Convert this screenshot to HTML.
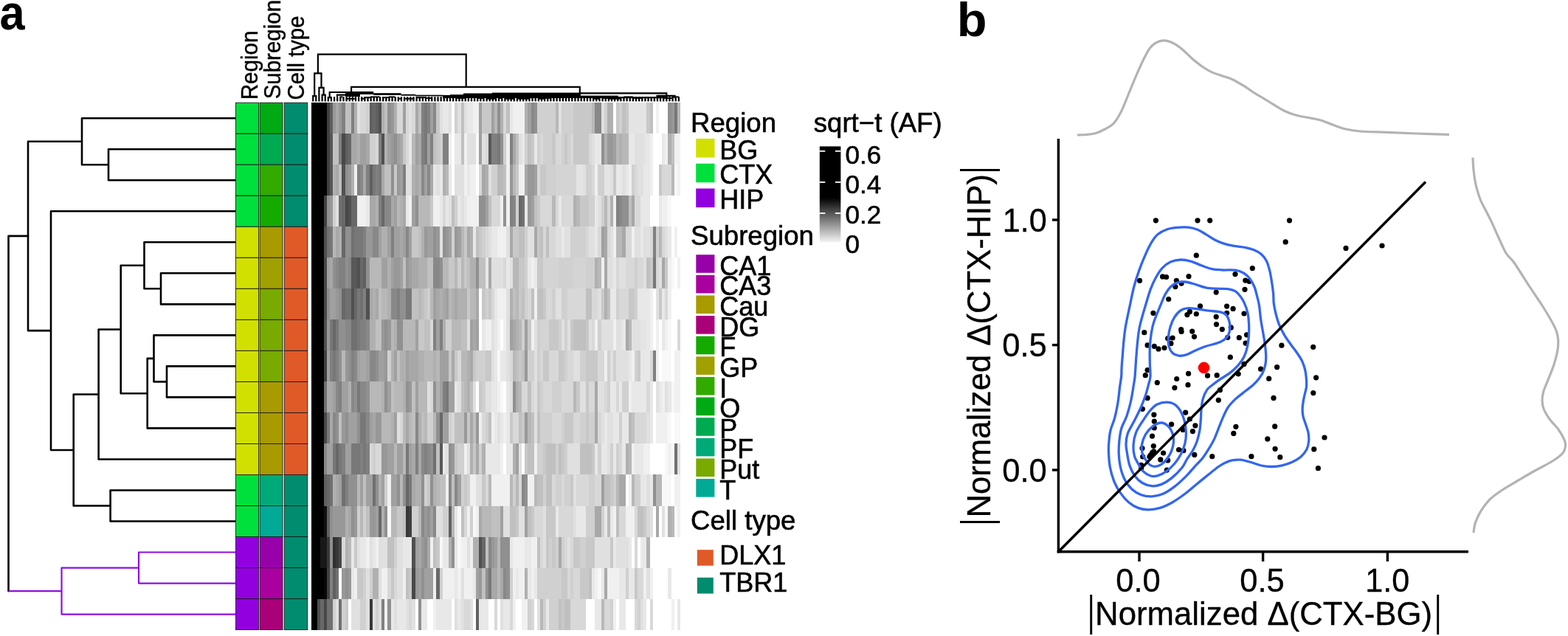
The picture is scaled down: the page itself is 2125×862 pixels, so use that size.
<!DOCTYPE html>
<html lang="en">
<head>
<meta charset="utf-8">
<title>Figure: regional heatmap and normalized delta scatter</title>
<style>
html,body{margin:0;padding:0;background:#fff;}
body{width:2125px;height:862px;overflow:hidden;}
svg{display:block;font-family:"Liberation Sans", sans-serif;}
</style>
</head>
<body>
<svg width="2125" height="862" viewBox="0 0 2125 862" role="img" aria-label="Heatmap of sqrt-t allele fractions by brain region and scatter plot of normalized differences">
<rect x="0" y="0" width="2125" height="862" fill="#ffffff"/>
<g id="panel-a">
<text transform="translate(-0.44,40.30) scale(0.9291,1)" font-size="66" font-weight="bold" fill="#000">a</text>
<g id="row-dendrogram" fill="none" stroke="#000" stroke-width="2.6" stroke-linejoin="round" stroke-linecap="butt">
<path d="M319.5,202.2H147.0V244.3H319.5"/>
<path d="M319.5,160.2H111.0V223.2H147.0"/>
<path d="M319.5,370.3H218.0V412.4H319.5"/>
<path d="M319.5,328.3H195.5V391.3H218.0"/>
<path d="M319.5,496.4H226.0V538.4H319.5"/>
<path d="M319.5,454.4H208.5V517.4H226.0"/>
<path d="M208.5,485.9H199.7V580.4H319.5"/>
<path d="M195.5,359.8H163.7V533.2H199.7"/>
<path d="M163.7,446.5H133.6V622.5H319.5"/>
<path d="M319.5,664.5H149.6V706.5H319.5"/>
<path d="M133.6,534.5H99.7V685.5H149.6"/>
<path d="M319.5,286.3H69.0V610.0H99.7"/>
<path d="M111.0,191.7H38.0V448.1H69.0"/>
</g>
<g id="row-dendrogram-hip" fill="none" stroke="#8c10e0" stroke-width="2.2" stroke-linejoin="round" stroke-linecap="butt">
<path d="M319.5,748.5H188.0V790.6H319.5"/>
<path d="M188.0,769.6H83.5V832.6H319.5"/>
</g>
<path d="M38,319.9H11.5V801.1" fill="none" stroke="#000" stroke-width="2.6" stroke-linejoin="round" stroke-linecap="round"/>
<path d="M11.5,801.1H83.5" fill="none" stroke="#8c10e0" stroke-width="2.2"/>
<g id="annotations" stroke="#1a1a1a" stroke-width="0.9">
<rect x="319.50" y="139.20" width="31.10" height="42.02" fill="#00e03c"/>
<rect x="352.10" y="139.20" width="30.90" height="42.02" fill="#00aa14"/>
<rect x="385.20" y="139.20" width="31.60" height="42.02" fill="#008c6e"/>
<rect x="319.50" y="181.22" width="31.10" height="42.02" fill="#00e03c"/>
<rect x="352.10" y="181.22" width="30.90" height="42.02" fill="#00aa50"/>
<rect x="385.20" y="181.22" width="31.60" height="42.02" fill="#008c6e"/>
<rect x="319.50" y="223.25" width="31.10" height="42.02" fill="#00e03c"/>
<rect x="352.10" y="223.25" width="30.90" height="42.02" fill="#32aa00"/>
<rect x="385.20" y="223.25" width="31.60" height="42.02" fill="#008c6e"/>
<rect x="319.50" y="265.27" width="31.10" height="42.02" fill="#00e03c"/>
<rect x="352.10" y="265.27" width="30.90" height="42.02" fill="#14aa00"/>
<rect x="385.20" y="265.27" width="31.60" height="42.02" fill="#008c6e"/>
<rect x="319.50" y="307.29" width="31.10" height="42.02" fill="#d2e000"/>
<rect x="352.10" y="307.29" width="30.90" height="42.02" fill="#a99a00"/>
<rect x="385.20" y="307.29" width="31.60" height="42.02" fill="#e05a28"/>
<rect x="319.50" y="349.32" width="31.10" height="42.02" fill="#d2e000"/>
<rect x="352.10" y="349.32" width="30.90" height="42.02" fill="#a0a000"/>
<rect x="385.20" y="349.32" width="31.60" height="42.02" fill="#e05a28"/>
<rect x="319.50" y="391.34" width="31.10" height="42.02" fill="#d2e000"/>
<rect x="352.10" y="391.34" width="30.90" height="42.02" fill="#78aa00"/>
<rect x="385.20" y="391.34" width="31.60" height="42.02" fill="#e05a28"/>
<rect x="319.50" y="433.36" width="31.10" height="42.02" fill="#d2e000"/>
<rect x="352.10" y="433.36" width="30.90" height="42.02" fill="#78aa00"/>
<rect x="385.20" y="433.36" width="31.60" height="42.02" fill="#e05a28"/>
<rect x="319.50" y="475.39" width="31.10" height="42.02" fill="#d2e000"/>
<rect x="352.10" y="475.39" width="30.90" height="42.02" fill="#78aa00"/>
<rect x="385.20" y="475.39" width="31.60" height="42.02" fill="#e05a28"/>
<rect x="319.50" y="517.41" width="31.10" height="42.02" fill="#d2e000"/>
<rect x="352.10" y="517.41" width="30.90" height="42.02" fill="#a99a00"/>
<rect x="385.20" y="517.41" width="31.60" height="42.02" fill="#e05a28"/>
<rect x="319.50" y="559.44" width="31.10" height="42.02" fill="#d2e000"/>
<rect x="352.10" y="559.44" width="30.90" height="42.02" fill="#a99a00"/>
<rect x="385.20" y="559.44" width="31.60" height="42.02" fill="#e05a28"/>
<rect x="319.50" y="601.46" width="31.10" height="42.02" fill="#d2e000"/>
<rect x="352.10" y="601.46" width="30.90" height="42.02" fill="#a99a00"/>
<rect x="385.20" y="601.46" width="31.60" height="42.02" fill="#e05a28"/>
<rect x="319.50" y="643.48" width="31.10" height="42.02" fill="#00e03c"/>
<rect x="352.10" y="643.48" width="30.90" height="42.02" fill="#00aa78"/>
<rect x="385.20" y="643.48" width="31.60" height="42.02" fill="#008c6e"/>
<rect x="319.50" y="685.51" width="31.10" height="42.02" fill="#00e03c"/>
<rect x="352.10" y="685.51" width="30.90" height="42.02" fill="#00aa96"/>
<rect x="385.20" y="685.51" width="31.60" height="42.02" fill="#008c6e"/>
<rect x="319.50" y="727.53" width="31.10" height="42.02" fill="#9200e0"/>
<rect x="352.10" y="727.53" width="30.90" height="42.02" fill="#9800aa"/>
<rect x="385.20" y="727.53" width="31.60" height="42.02" fill="#008c6e"/>
<rect x="319.50" y="769.55" width="31.10" height="42.02" fill="#9200e0"/>
<rect x="352.10" y="769.55" width="30.90" height="42.02" fill="#aa00a0"/>
<rect x="385.20" y="769.55" width="31.60" height="42.02" fill="#008c6e"/>
<rect x="319.50" y="811.58" width="31.10" height="42.02" fill="#9200e0"/>
<rect x="352.10" y="811.58" width="30.90" height="42.02" fill="#aa0078"/>
<rect x="385.20" y="811.58" width="31.60" height="42.02" fill="#008c6e"/>
</g>
<text transform="translate(349.10,135.37) rotate(-90) scale(1.0018,1.0500)" font-size="29.6" fill="#000" stroke="#000" stroke-width="0.4">Region</text>
<text transform="translate(379.70,134.33) rotate(-90) scale(0.9961,1.0500)" font-size="29.6" fill="#000" stroke="#000" stroke-width="0.4">Subregion</text>
<text transform="translate(411.80,135.46) rotate(-90) scale(0.9890,1.0500)" font-size="29.6" fill="#000" stroke="#000" stroke-width="0.4">Cell type</text>
<g id="heatmap" shape-rendering="crispEdges">
<rect x="422.10" y="139.20" width="20.70" height="42.07" fill="#000000"/>
<rect x="442.75" y="139.20" width="4.18" height="42.07" fill="#404040"/>
<rect x="446.88" y="139.20" width="4.18" height="42.07" fill="#606060"/>
<rect x="451.01" y="139.20" width="4.18" height="42.07" fill="#999999"/>
<rect x="455.14" y="139.20" width="4.18" height="42.07" fill="#a8a8a8"/>
<rect x="459.28" y="139.20" width="4.18" height="42.07" fill="#999999"/>
<rect x="463.41" y="139.20" width="4.18" height="42.07" fill="#808080"/>
<rect x="467.54" y="139.20" width="8.31" height="42.07" fill="#c0c0c0"/>
<rect x="475.80" y="139.20" width="4.18" height="42.07" fill="#808080"/>
<rect x="479.93" y="139.20" width="4.18" height="42.07" fill="#b0b0b0"/>
<rect x="484.06" y="139.20" width="4.18" height="42.07" fill="#e0e0e0"/>
<rect x="488.19" y="139.20" width="8.31" height="42.07" fill="#d8d8d8"/>
<rect x="496.45" y="139.20" width="4.18" height="42.07" fill="#d0d0d0"/>
<rect x="500.58" y="139.20" width="4.18" height="42.07" fill="#606060"/>
<rect x="504.71" y="139.20" width="4.18" height="42.07" fill="#686868"/>
<rect x="508.84" y="139.20" width="4.18" height="42.07" fill="#606060"/>
<rect x="512.97" y="139.20" width="4.18" height="42.07" fill="#505050"/>
<rect x="517.10" y="139.20" width="4.18" height="42.07" fill="#b0b0b0"/>
<rect x="521.23" y="139.20" width="4.18" height="42.07" fill="#c0c0c0"/>
<rect x="525.36" y="139.20" width="4.18" height="42.07" fill="#909090"/>
<rect x="529.50" y="139.20" width="4.18" height="42.07" fill="#989898"/>
<rect x="533.63" y="139.20" width="4.18" height="42.07" fill="#b0b0b0"/>
<rect x="537.76" y="139.20" width="8.31" height="42.07" fill="#d8d8d8"/>
<rect x="546.02" y="139.20" width="4.18" height="42.07" fill="#a0a0a0"/>
<rect x="550.15" y="139.20" width="4.18" height="42.07" fill="#d8d8d8"/>
<rect x="554.28" y="139.20" width="4.18" height="42.07" fill="#e0e0e0"/>
<rect x="558.41" y="139.20" width="4.18" height="42.07" fill="#d8d8d8"/>
<rect x="562.54" y="139.20" width="4.18" height="42.07" fill="#a8a8a8"/>
<rect x="566.67" y="139.20" width="4.18" height="42.07" fill="#c0c0c0"/>
<rect x="570.80" y="139.20" width="4.18" height="42.07" fill="#808080"/>
<rect x="574.93" y="139.20" width="4.18" height="42.07" fill="#787878"/>
<rect x="579.06" y="139.20" width="4.18" height="42.07" fill="#808080"/>
<rect x="583.19" y="139.20" width="4.18" height="42.07" fill="#a0a0a0"/>
<rect x="587.32" y="139.20" width="4.18" height="42.07" fill="#888888"/>
<rect x="591.45" y="139.20" width="4.18" height="42.07" fill="#c8c8c8"/>
<rect x="595.58" y="139.20" width="4.18" height="42.07" fill="#e0e0e0"/>
<rect x="599.71" y="139.20" width="8.31" height="42.07" fill="#e8e8e8"/>
<rect x="607.98" y="139.20" width="4.18" height="42.07" fill="#e0e0e0"/>
<rect x="612.11" y="139.20" width="4.18" height="42.07" fill="#ffffff"/>
<rect x="616.24" y="139.20" width="4.18" height="42.07" fill="#d0d0d0"/>
<rect x="620.37" y="139.20" width="4.18" height="42.07" fill="#e0e0e0"/>
<rect x="624.50" y="139.20" width="4.18" height="42.07" fill="#c0c0c0"/>
<rect x="628.63" y="139.20" width="4.18" height="42.07" fill="#e0e0e0"/>
<rect x="632.76" y="139.20" width="8.31" height="42.07" fill="#e8e8e8"/>
<rect x="641.02" y="139.20" width="8.31" height="42.07" fill="#f0f0f0"/>
<rect x="649.28" y="139.20" width="4.18" height="42.07" fill="#a0a0a0"/>
<rect x="653.41" y="139.20" width="12.44" height="42.07" fill="#c8c8c8"/>
<rect x="665.80" y="139.20" width="4.18" height="42.07" fill="#a0a0a0"/>
<rect x="669.93" y="139.20" width="4.18" height="42.07" fill="#b8b8b8"/>
<rect x="674.07" y="139.20" width="4.18" height="42.07" fill="#909090"/>
<rect x="678.20" y="139.20" width="4.18" height="42.07" fill="#b0b0b0"/>
<rect x="682.33" y="139.20" width="4.18" height="42.07" fill="#d8d8d8"/>
<rect x="686.46" y="139.20" width="4.18" height="42.07" fill="#c0c0c0"/>
<rect x="690.59" y="139.20" width="4.18" height="42.07" fill="#e8e8e8"/>
<rect x="694.72" y="139.20" width="16.57" height="42.07" fill="#f0f0f0"/>
<rect x="711.24" y="139.20" width="4.18" height="42.07" fill="#b0b0b0"/>
<rect x="715.37" y="139.20" width="4.18" height="42.07" fill="#a0a0a0"/>
<rect x="719.50" y="139.20" width="4.18" height="42.07" fill="#888888"/>
<rect x="723.63" y="139.20" width="4.18" height="42.07" fill="#909090"/>
<rect x="727.76" y="139.20" width="24.83" height="42.07" fill="#d0d0d0"/>
<rect x="752.55" y="139.20" width="4.18" height="42.07" fill="#b8b8b8"/>
<rect x="756.68" y="139.20" width="4.18" height="42.07" fill="#e0e0e0"/>
<rect x="760.81" y="139.20" width="16.57" height="42.07" fill="#d0d0d0"/>
<rect x="777.33" y="139.20" width="24.83" height="42.07" fill="#c8c8c8"/>
<rect x="802.11" y="139.20" width="4.18" height="42.07" fill="#b8b8b8"/>
<rect x="806.24" y="139.20" width="8.31" height="42.07" fill="#888888"/>
<rect x="814.50" y="139.20" width="4.18" height="42.07" fill="#e0e0e0"/>
<rect x="818.64" y="139.20" width="4.18" height="42.07" fill="#d0d0d0"/>
<rect x="822.77" y="139.20" width="8.31" height="42.07" fill="#b0b0b0"/>
<rect x="831.03" y="139.20" width="4.18" height="42.07" fill="#ffffff"/>
<rect x="835.16" y="139.20" width="4.18" height="42.07" fill="#c8c8c8"/>
<rect x="839.29" y="139.20" width="4.18" height="42.07" fill="#d0d0d0"/>
<rect x="843.42" y="139.20" width="4.18" height="42.07" fill="#c0c0c0"/>
<rect x="847.55" y="139.20" width="4.18" height="42.07" fill="#c8c8c8"/>
<rect x="851.68" y="139.20" width="24.83" height="42.07" fill="#e4e4e4"/>
<rect x="876.46" y="139.20" width="4.18" height="42.07" fill="#c8c8c8"/>
<rect x="880.59" y="139.20" width="4.18" height="42.07" fill="#c0c0c0"/>
<rect x="884.72" y="139.20" width="4.18" height="42.07" fill="#ffffff"/>
<rect x="888.86" y="139.20" width="4.18" height="42.07" fill="#f0f0f0"/>
<rect x="892.99" y="139.20" width="12.44" height="42.07" fill="#ffffff"/>
<rect x="905.38" y="139.20" width="4.18" height="42.07" fill="#909090"/>
<rect x="909.51" y="139.20" width="4.18" height="42.07" fill="#989898"/>
<rect x="913.64" y="139.20" width="4.18" height="42.07" fill="#787878"/>
<rect x="917.77" y="139.20" width="4.18" height="42.07" fill="#b8b8b8"/>
<rect x="422.10" y="181.22" width="20.70" height="42.07" fill="#000000"/>
<rect x="442.75" y="181.22" width="4.18" height="42.07" fill="#404040"/>
<rect x="446.88" y="181.22" width="4.18" height="42.07" fill="#585858"/>
<rect x="451.01" y="181.22" width="8.31" height="42.07" fill="#c0c0c0"/>
<rect x="459.28" y="181.22" width="4.18" height="42.07" fill="#808080"/>
<rect x="463.41" y="181.22" width="4.18" height="42.07" fill="#484848"/>
<rect x="467.54" y="181.22" width="4.18" height="42.07" fill="#606060"/>
<rect x="471.67" y="181.22" width="4.18" height="42.07" fill="#686868"/>
<rect x="475.80" y="181.22" width="8.31" height="42.07" fill="#a8a8a8"/>
<rect x="484.06" y="181.22" width="4.18" height="42.07" fill="#b0b0b0"/>
<rect x="488.19" y="181.22" width="8.31" height="42.07" fill="#a0a0a0"/>
<rect x="496.45" y="181.22" width="4.18" height="42.07" fill="#a8a8a8"/>
<rect x="500.58" y="181.22" width="8.31" height="42.07" fill="#d0d0d0"/>
<rect x="508.84" y="181.22" width="4.18" height="42.07" fill="#d8d8d8"/>
<rect x="512.97" y="181.22" width="4.18" height="42.07" fill="#808080"/>
<rect x="517.10" y="181.22" width="4.18" height="42.07" fill="#505050"/>
<rect x="521.23" y="181.22" width="4.18" height="42.07" fill="#b0b0b0"/>
<rect x="525.36" y="181.22" width="4.18" height="42.07" fill="#a0a0a0"/>
<rect x="529.50" y="181.22" width="4.18" height="42.07" fill="#989898"/>
<rect x="533.63" y="181.22" width="4.18" height="42.07" fill="#909090"/>
<rect x="537.76" y="181.22" width="4.18" height="42.07" fill="#a0a0a0"/>
<rect x="541.89" y="181.22" width="4.18" height="42.07" fill="#a8a8a8"/>
<rect x="546.02" y="181.22" width="4.18" height="42.07" fill="#c8c8c8"/>
<rect x="550.15" y="181.22" width="4.18" height="42.07" fill="#d8d8d8"/>
<rect x="554.28" y="181.22" width="4.18" height="42.07" fill="#e8e8e8"/>
<rect x="558.41" y="181.22" width="4.18" height="42.07" fill="#b8b8b8"/>
<rect x="562.54" y="181.22" width="4.18" height="42.07" fill="#a0a0a0"/>
<rect x="566.67" y="181.22" width="4.18" height="42.07" fill="#a8a8a8"/>
<rect x="570.80" y="181.22" width="4.18" height="42.07" fill="#808080"/>
<rect x="574.93" y="181.22" width="4.18" height="42.07" fill="#787878"/>
<rect x="579.06" y="181.22" width="4.18" height="42.07" fill="#a0a0a0"/>
<rect x="583.19" y="181.22" width="4.18" height="42.07" fill="#808080"/>
<rect x="587.32" y="181.22" width="4.18" height="42.07" fill="#c0c0c0"/>
<rect x="591.45" y="181.22" width="4.18" height="42.07" fill="#c8c8c8"/>
<rect x="595.58" y="181.22" width="4.18" height="42.07" fill="#d0d0d0"/>
<rect x="599.71" y="181.22" width="8.31" height="42.07" fill="#808080"/>
<rect x="607.98" y="181.22" width="4.18" height="42.07" fill="#f0f0f0"/>
<rect x="612.11" y="181.22" width="4.18" height="42.07" fill="#ffffff"/>
<rect x="616.24" y="181.22" width="8.31" height="42.07" fill="#e8e8e8"/>
<rect x="624.50" y="181.22" width="4.18" height="42.07" fill="#c0c0c0"/>
<rect x="628.63" y="181.22" width="4.18" height="42.07" fill="#f0f0f0"/>
<rect x="632.76" y="181.22" width="12.44" height="42.07" fill="#e0e0e0"/>
<rect x="645.15" y="181.22" width="4.18" height="42.07" fill="#f8f8f8"/>
<rect x="649.28" y="181.22" width="4.18" height="42.07" fill="#a0a0a0"/>
<rect x="653.41" y="181.22" width="4.18" height="42.07" fill="#e0e0e0"/>
<rect x="657.54" y="181.22" width="4.18" height="42.07" fill="#d8d8d8"/>
<rect x="661.67" y="181.22" width="4.18" height="42.07" fill="#585858"/>
<rect x="665.80" y="181.22" width="8.31" height="42.07" fill="#808080"/>
<rect x="674.07" y="181.22" width="4.18" height="42.07" fill="#787878"/>
<rect x="678.20" y="181.22" width="4.18" height="42.07" fill="#909090"/>
<rect x="682.33" y="181.22" width="4.18" height="42.07" fill="#d0d0d0"/>
<rect x="686.46" y="181.22" width="4.18" height="42.07" fill="#f0f0f0"/>
<rect x="690.59" y="181.22" width="4.18" height="42.07" fill="#808080"/>
<rect x="694.72" y="181.22" width="4.18" height="42.07" fill="#a8a8a8"/>
<rect x="698.85" y="181.22" width="4.18" height="42.07" fill="#c0c0c0"/>
<rect x="702.98" y="181.22" width="4.18" height="42.07" fill="#e0e0e0"/>
<rect x="707.11" y="181.22" width="4.18" height="42.07" fill="#e8e8e8"/>
<rect x="711.24" y="181.22" width="4.18" height="42.07" fill="#d0d0d0"/>
<rect x="715.37" y="181.22" width="4.18" height="42.07" fill="#c0c0c0"/>
<rect x="719.50" y="181.22" width="4.18" height="42.07" fill="#c8c8c8"/>
<rect x="723.63" y="181.22" width="4.18" height="42.07" fill="#e8e8e8"/>
<rect x="727.76" y="181.22" width="4.18" height="42.07" fill="#d0d0d0"/>
<rect x="731.89" y="181.22" width="4.18" height="42.07" fill="#d8d8d8"/>
<rect x="736.02" y="181.22" width="12.44" height="42.07" fill="#d0d0d0"/>
<rect x="748.42" y="181.22" width="4.18" height="42.07" fill="#c8c8c8"/>
<rect x="752.55" y="181.22" width="8.31" height="42.07" fill="#d8d8d8"/>
<rect x="760.81" y="181.22" width="4.18" height="42.07" fill="#d0d0d0"/>
<rect x="764.94" y="181.22" width="4.18" height="42.07" fill="#c8c8c8"/>
<rect x="769.07" y="181.22" width="4.18" height="42.07" fill="#d0d0d0"/>
<rect x="773.20" y="181.22" width="4.18" height="42.07" fill="#d8d8d8"/>
<rect x="777.33" y="181.22" width="20.70" height="42.07" fill="#c8c8c8"/>
<rect x="797.98" y="181.22" width="4.18" height="42.07" fill="#d8d8d8"/>
<rect x="802.11" y="181.22" width="4.18" height="42.07" fill="#e0e0e0"/>
<rect x="806.24" y="181.22" width="8.31" height="42.07" fill="#e8e8e8"/>
<rect x="814.50" y="181.22" width="4.18" height="42.07" fill="#909090"/>
<rect x="818.64" y="181.22" width="4.18" height="42.07" fill="#b0b0b0"/>
<rect x="822.77" y="181.22" width="8.31" height="42.07" fill="#989898"/>
<rect x="831.03" y="181.22" width="4.18" height="42.07" fill="#a0a0a0"/>
<rect x="835.16" y="181.22" width="4.18" height="42.07" fill="#b8b8b8"/>
<rect x="839.29" y="181.22" width="4.18" height="42.07" fill="#b0b0b0"/>
<rect x="843.42" y="181.22" width="8.31" height="42.07" fill="#b8b8b8"/>
<rect x="851.68" y="181.22" width="8.31" height="42.07" fill="#e8e8e8"/>
<rect x="859.94" y="181.22" width="12.44" height="42.07" fill="#e0e0e0"/>
<rect x="872.33" y="181.22" width="4.18" height="42.07" fill="#e4e4e4"/>
<rect x="876.46" y="181.22" width="4.18" height="42.07" fill="#e8e8e8"/>
<rect x="880.59" y="181.22" width="4.18" height="42.07" fill="#f0f0f0"/>
<rect x="884.72" y="181.22" width="12.44" height="42.07" fill="#ffffff"/>
<rect x="897.12" y="181.22" width="4.18" height="42.07" fill="#e8e8e8"/>
<rect x="901.25" y="181.22" width="4.18" height="42.07" fill="#f0f0f0"/>
<rect x="905.38" y="181.22" width="4.18" height="42.07" fill="#b0b0b0"/>
<rect x="909.51" y="181.22" width="4.18" height="42.07" fill="#c0c0c0"/>
<rect x="913.64" y="181.22" width="8.31" height="42.07" fill="#f0f0f0"/>
<rect x="422.10" y="223.25" width="20.70" height="42.07" fill="#000000"/>
<rect x="442.75" y="223.25" width="4.18" height="42.07" fill="#404040"/>
<rect x="446.88" y="223.25" width="4.18" height="42.07" fill="#585858"/>
<rect x="451.01" y="223.25" width="4.18" height="42.07" fill="#b0b0b0"/>
<rect x="455.14" y="223.25" width="4.18" height="42.07" fill="#a8a8a8"/>
<rect x="459.28" y="223.25" width="4.18" height="42.07" fill="#c0c0c0"/>
<rect x="463.41" y="223.25" width="4.18" height="42.07" fill="#505050"/>
<rect x="467.54" y="223.25" width="4.18" height="42.07" fill="#909090"/>
<rect x="471.67" y="223.25" width="4.18" height="42.07" fill="#989898"/>
<rect x="475.80" y="223.25" width="4.18" height="42.07" fill="#b0b0b0"/>
<rect x="479.93" y="223.25" width="4.18" height="42.07" fill="#f0f0f0"/>
<rect x="484.06" y="223.25" width="4.18" height="42.07" fill="#808080"/>
<rect x="488.19" y="223.25" width="4.18" height="42.07" fill="#888888"/>
<rect x="492.32" y="223.25" width="4.18" height="42.07" fill="#a8a8a8"/>
<rect x="496.45" y="223.25" width="4.18" height="42.07" fill="#808080"/>
<rect x="500.58" y="223.25" width="4.18" height="42.07" fill="#606060"/>
<rect x="504.71" y="223.25" width="4.18" height="42.07" fill="#787878"/>
<rect x="508.84" y="223.25" width="4.18" height="42.07" fill="#808080"/>
<rect x="512.97" y="223.25" width="4.18" height="42.07" fill="#787878"/>
<rect x="517.10" y="223.25" width="4.18" height="42.07" fill="#a8a8a8"/>
<rect x="521.23" y="223.25" width="8.31" height="42.07" fill="#c0c0c0"/>
<rect x="529.50" y="223.25" width="4.18" height="42.07" fill="#909090"/>
<rect x="533.63" y="223.25" width="4.18" height="42.07" fill="#c8c8c8"/>
<rect x="537.76" y="223.25" width="4.18" height="42.07" fill="#989898"/>
<rect x="541.89" y="223.25" width="4.18" height="42.07" fill="#a0a0a0"/>
<rect x="546.02" y="223.25" width="4.18" height="42.07" fill="#808080"/>
<rect x="550.15" y="223.25" width="8.31" height="42.07" fill="#e0e0e0"/>
<rect x="558.41" y="223.25" width="4.18" height="42.07" fill="#b0b0b0"/>
<rect x="562.54" y="223.25" width="4.18" height="42.07" fill="#a8a8a8"/>
<rect x="566.67" y="223.25" width="4.18" height="42.07" fill="#b0b0b0"/>
<rect x="570.80" y="223.25" width="4.18" height="42.07" fill="#888888"/>
<rect x="574.93" y="223.25" width="4.18" height="42.07" fill="#a0a0a0"/>
<rect x="579.06" y="223.25" width="4.18" height="42.07" fill="#888888"/>
<rect x="583.19" y="223.25" width="4.18" height="42.07" fill="#a8a8a8"/>
<rect x="587.32" y="223.25" width="4.18" height="42.07" fill="#e8e8e8"/>
<rect x="591.45" y="223.25" width="4.18" height="42.07" fill="#e0e0e0"/>
<rect x="595.58" y="223.25" width="4.18" height="42.07" fill="#e8e8e8"/>
<rect x="599.71" y="223.25" width="4.18" height="42.07" fill="#b0b0b0"/>
<rect x="603.85" y="223.25" width="4.18" height="42.07" fill="#b8b8b8"/>
<rect x="607.98" y="223.25" width="4.18" height="42.07" fill="#e8e8e8"/>
<rect x="612.11" y="223.25" width="4.18" height="42.07" fill="#ffffff"/>
<rect x="616.24" y="223.25" width="12.44" height="42.07" fill="#e0e0e0"/>
<rect x="628.63" y="223.25" width="4.18" height="42.07" fill="#f0f0f0"/>
<rect x="632.76" y="223.25" width="4.18" height="42.07" fill="#e8e8e8"/>
<rect x="636.89" y="223.25" width="8.31" height="42.07" fill="#f0f0f0"/>
<rect x="645.15" y="223.25" width="4.18" height="42.07" fill="#ffffff"/>
<rect x="649.28" y="223.25" width="4.18" height="42.07" fill="#d8d8d8"/>
<rect x="653.41" y="223.25" width="4.18" height="42.07" fill="#a8a8a8"/>
<rect x="657.54" y="223.25" width="4.18" height="42.07" fill="#b0b0b0"/>
<rect x="661.67" y="223.25" width="4.18" height="42.07" fill="#e0e0e0"/>
<rect x="665.80" y="223.25" width="8.31" height="42.07" fill="#d0d0d0"/>
<rect x="674.07" y="223.25" width="8.31" height="42.07" fill="#b8b8b8"/>
<rect x="682.33" y="223.25" width="4.18" height="42.07" fill="#c0c0c0"/>
<rect x="686.46" y="223.25" width="4.18" height="42.07" fill="#f0f0f0"/>
<rect x="690.59" y="223.25" width="4.18" height="42.07" fill="#989898"/>
<rect x="694.72" y="223.25" width="4.18" height="42.07" fill="#b8b8b8"/>
<rect x="698.85" y="223.25" width="4.18" height="42.07" fill="#c8c8c8"/>
<rect x="702.98" y="223.25" width="8.31" height="42.07" fill="#f0f0f0"/>
<rect x="711.24" y="223.25" width="4.18" height="42.07" fill="#a8a8a8"/>
<rect x="715.37" y="223.25" width="8.31" height="42.07" fill="#989898"/>
<rect x="723.63" y="223.25" width="4.18" height="42.07" fill="#a0a0a0"/>
<rect x="727.76" y="223.25" width="4.18" height="42.07" fill="#d8d8d8"/>
<rect x="731.89" y="223.25" width="8.31" height="42.07" fill="#c8c8c8"/>
<rect x="740.15" y="223.25" width="12.44" height="42.07" fill="#d0d0d0"/>
<rect x="752.55" y="223.25" width="28.96" height="42.07" fill="#d4d4d4"/>
<rect x="781.46" y="223.25" width="8.31" height="42.07" fill="#e4e4e4"/>
<rect x="789.72" y="223.25" width="4.18" height="42.07" fill="#e0e0e0"/>
<rect x="793.85" y="223.25" width="8.31" height="42.07" fill="#d0d0d0"/>
<rect x="802.11" y="223.25" width="4.18" height="42.07" fill="#d8d8d8"/>
<rect x="806.24" y="223.25" width="4.18" height="42.07" fill="#f0f0f0"/>
<rect x="810.37" y="223.25" width="8.31" height="42.07" fill="#d0d0d0"/>
<rect x="818.64" y="223.25" width="8.31" height="42.07" fill="#e4e4e4"/>
<rect x="826.90" y="223.25" width="4.18" height="42.07" fill="#e0e0e0"/>
<rect x="831.03" y="223.25" width="4.18" height="42.07" fill="#c8c8c8"/>
<rect x="835.16" y="223.25" width="8.31" height="42.07" fill="#e8e8e8"/>
<rect x="843.42" y="223.25" width="4.18" height="42.07" fill="#e0e0e0"/>
<rect x="847.55" y="223.25" width="4.18" height="42.07" fill="#e8e8e8"/>
<rect x="851.68" y="223.25" width="4.18" height="42.07" fill="#f0f0f0"/>
<rect x="855.81" y="223.25" width="4.18" height="42.07" fill="#d0d0d0"/>
<rect x="859.94" y="223.25" width="4.18" height="42.07" fill="#d8d8d8"/>
<rect x="864.07" y="223.25" width="8.31" height="42.07" fill="#e0e0e0"/>
<rect x="872.33" y="223.25" width="8.31" height="42.07" fill="#e8e8e8"/>
<rect x="880.59" y="223.25" width="4.18" height="42.07" fill="#f0f0f0"/>
<rect x="884.72" y="223.25" width="8.31" height="42.07" fill="#ffffff"/>
<rect x="892.99" y="223.25" width="4.18" height="42.07" fill="#c8c8c8"/>
<rect x="897.12" y="223.25" width="12.44" height="42.07" fill="#d8d8d8"/>
<rect x="909.51" y="223.25" width="4.18" height="42.07" fill="#b8b8b8"/>
<rect x="913.64" y="223.25" width="4.18" height="42.07" fill="#f8f8f8"/>
<rect x="917.77" y="223.25" width="4.18" height="42.07" fill="#f0f0f0"/>
<rect x="422.10" y="265.27" width="16.57" height="42.07" fill="#000000"/>
<rect x="438.62" y="265.27" width="4.18" height="42.07" fill="#404040"/>
<rect x="442.75" y="265.27" width="4.18" height="42.07" fill="#909090"/>
<rect x="446.88" y="265.27" width="4.18" height="42.07" fill="#989898"/>
<rect x="451.01" y="265.27" width="4.18" height="42.07" fill="#d0d0d0"/>
<rect x="455.14" y="265.27" width="4.18" height="42.07" fill="#e0e0e0"/>
<rect x="459.28" y="265.27" width="4.18" height="42.07" fill="#707070"/>
<rect x="463.41" y="265.27" width="4.18" height="42.07" fill="#686868"/>
<rect x="467.54" y="265.27" width="4.18" height="42.07" fill="#484848"/>
<rect x="471.67" y="265.27" width="4.18" height="42.07" fill="#505050"/>
<rect x="475.80" y="265.27" width="8.31" height="42.07" fill="#686868"/>
<rect x="484.06" y="265.27" width="12.44" height="42.07" fill="#f0f0f0"/>
<rect x="496.45" y="265.27" width="4.18" height="42.07" fill="#e8e8e8"/>
<rect x="500.58" y="265.27" width="8.31" height="42.07" fill="#a8a8a8"/>
<rect x="508.84" y="265.27" width="4.18" height="42.07" fill="#b0b0b0"/>
<rect x="512.97" y="265.27" width="4.18" height="42.07" fill="#808080"/>
<rect x="517.10" y="265.27" width="4.18" height="42.07" fill="#686868"/>
<rect x="521.23" y="265.27" width="8.31" height="42.07" fill="#888888"/>
<rect x="529.50" y="265.27" width="4.18" height="42.07" fill="#a8a8a8"/>
<rect x="533.63" y="265.27" width="4.18" height="42.07" fill="#a0a0a0"/>
<rect x="537.76" y="265.27" width="4.18" height="42.07" fill="#b8b8b8"/>
<rect x="541.89" y="265.27" width="4.18" height="42.07" fill="#b0b0b0"/>
<rect x="546.02" y="265.27" width="4.18" height="42.07" fill="#a8a8a8"/>
<rect x="550.15" y="265.27" width="4.18" height="42.07" fill="#e8e8e8"/>
<rect x="554.28" y="265.27" width="4.18" height="42.07" fill="#f0f0f0"/>
<rect x="558.41" y="265.27" width="4.18" height="42.07" fill="#a0a0a0"/>
<rect x="562.54" y="265.27" width="4.18" height="42.07" fill="#909090"/>
<rect x="566.67" y="265.27" width="16.57" height="42.07" fill="#b8b8b8"/>
<rect x="583.19" y="265.27" width="4.18" height="42.07" fill="#c8c8c8"/>
<rect x="587.32" y="265.27" width="8.31" height="42.07" fill="#f0f0f0"/>
<rect x="595.58" y="265.27" width="4.18" height="42.07" fill="#e8e8e8"/>
<rect x="599.71" y="265.27" width="4.18" height="42.07" fill="#d8d8d8"/>
<rect x="603.85" y="265.27" width="4.18" height="42.07" fill="#e8e8e8"/>
<rect x="607.98" y="265.27" width="4.18" height="42.07" fill="#e0e0e0"/>
<rect x="612.11" y="265.27" width="4.18" height="42.07" fill="#c0c0c0"/>
<rect x="616.24" y="265.27" width="4.18" height="42.07" fill="#d0d0d0"/>
<rect x="620.37" y="265.27" width="4.18" height="42.07" fill="#e8e8e8"/>
<rect x="624.50" y="265.27" width="4.18" height="42.07" fill="#e0e0e0"/>
<rect x="628.63" y="265.27" width="4.18" height="42.07" fill="#e8e8e8"/>
<rect x="632.76" y="265.27" width="16.57" height="42.07" fill="#f0f0f0"/>
<rect x="649.28" y="265.27" width="8.31" height="42.07" fill="#909090"/>
<rect x="657.54" y="265.27" width="4.18" height="42.07" fill="#a0a0a0"/>
<rect x="661.67" y="265.27" width="4.18" height="42.07" fill="#c0c0c0"/>
<rect x="665.80" y="265.27" width="12.44" height="42.07" fill="#d8d8d8"/>
<rect x="678.20" y="265.27" width="4.18" height="42.07" fill="#f0f0f0"/>
<rect x="682.33" y="265.27" width="4.18" height="42.07" fill="#909090"/>
<rect x="686.46" y="265.27" width="4.18" height="42.07" fill="#f0f0f0"/>
<rect x="690.59" y="265.27" width="4.18" height="42.07" fill="#808080"/>
<rect x="694.72" y="265.27" width="4.18" height="42.07" fill="#888888"/>
<rect x="698.85" y="265.27" width="4.18" height="42.07" fill="#d0d0d0"/>
<rect x="702.98" y="265.27" width="4.18" height="42.07" fill="#686868"/>
<rect x="707.11" y="265.27" width="4.18" height="42.07" fill="#707070"/>
<rect x="711.24" y="265.27" width="4.18" height="42.07" fill="#e8e8e8"/>
<rect x="715.37" y="265.27" width="4.18" height="42.07" fill="#989898"/>
<rect x="719.50" y="265.27" width="4.18" height="42.07" fill="#a0a0a0"/>
<rect x="723.63" y="265.27" width="4.18" height="42.07" fill="#c0c0c0"/>
<rect x="727.76" y="265.27" width="4.18" height="42.07" fill="#c8c8c8"/>
<rect x="731.89" y="265.27" width="16.57" height="42.07" fill="#d8d8d8"/>
<rect x="748.42" y="265.27" width="4.18" height="42.07" fill="#b8b8b8"/>
<rect x="752.55" y="265.27" width="4.18" height="42.07" fill="#d8d8d8"/>
<rect x="756.68" y="265.27" width="4.18" height="42.07" fill="#e8e8e8"/>
<rect x="760.81" y="265.27" width="16.57" height="42.07" fill="#d8d8d8"/>
<rect x="777.33" y="265.27" width="4.18" height="42.07" fill="#b0b0b0"/>
<rect x="781.46" y="265.27" width="4.18" height="42.07" fill="#b8b8b8"/>
<rect x="785.59" y="265.27" width="12.44" height="42.07" fill="#c8c8c8"/>
<rect x="797.98" y="265.27" width="8.31" height="42.07" fill="#d0d0d0"/>
<rect x="806.24" y="265.27" width="4.18" height="42.07" fill="#e8e8e8"/>
<rect x="810.37" y="265.27" width="4.18" height="42.07" fill="#e0e0e0"/>
<rect x="814.50" y="265.27" width="4.18" height="42.07" fill="#d0d0d0"/>
<rect x="818.64" y="265.27" width="4.18" height="42.07" fill="#b8b8b8"/>
<rect x="822.77" y="265.27" width="4.18" height="42.07" fill="#d8d8d8"/>
<rect x="826.90" y="265.27" width="4.18" height="42.07" fill="#b0b0b0"/>
<rect x="831.03" y="265.27" width="4.18" height="42.07" fill="#f0f0f0"/>
<rect x="835.16" y="265.27" width="4.18" height="42.07" fill="#808080"/>
<rect x="839.29" y="265.27" width="4.18" height="42.07" fill="#888888"/>
<rect x="843.42" y="265.27" width="8.31" height="42.07" fill="#909090"/>
<rect x="851.68" y="265.27" width="4.18" height="42.07" fill="#c0c0c0"/>
<rect x="855.81" y="265.27" width="4.18" height="42.07" fill="#a8a8a8"/>
<rect x="859.94" y="265.27" width="8.31" height="42.07" fill="#d8d8d8"/>
<rect x="868.20" y="265.27" width="12.44" height="42.07" fill="#e8e8e8"/>
<rect x="880.59" y="265.27" width="12.44" height="42.07" fill="#ffffff"/>
<rect x="892.99" y="265.27" width="4.18" height="42.07" fill="#e8e8e8"/>
<rect x="897.12" y="265.27" width="8.31" height="42.07" fill="#f0f0f0"/>
<rect x="905.38" y="265.27" width="4.18" height="42.07" fill="#f8f8f8"/>
<rect x="909.51" y="265.27" width="12.44" height="42.07" fill="#ffffff"/>
<rect x="422.10" y="307.29" width="16.57" height="42.07" fill="#000000"/>
<rect x="438.62" y="307.29" width="4.18" height="42.07" fill="#505050"/>
<rect x="442.75" y="307.29" width="4.18" height="42.07" fill="#707070"/>
<rect x="446.88" y="307.29" width="4.18" height="42.07" fill="#787878"/>
<rect x="451.01" y="307.29" width="4.18" height="42.07" fill="#b8b8b8"/>
<rect x="455.14" y="307.29" width="4.18" height="42.07" fill="#a8a8a8"/>
<rect x="459.28" y="307.29" width="4.18" height="42.07" fill="#b0b0b0"/>
<rect x="463.41" y="307.29" width="4.18" height="42.07" fill="#686868"/>
<rect x="467.54" y="307.29" width="8.31" height="42.07" fill="#909090"/>
<rect x="475.80" y="307.29" width="4.18" height="42.07" fill="#707070"/>
<rect x="479.93" y="307.29" width="12.44" height="42.07" fill="#787878"/>
<rect x="492.32" y="307.29" width="4.18" height="42.07" fill="#808080"/>
<rect x="496.45" y="307.29" width="8.31" height="42.07" fill="#989898"/>
<rect x="504.71" y="307.29" width="8.31" height="42.07" fill="#888888"/>
<rect x="512.97" y="307.29" width="4.18" height="42.07" fill="#a0a0a0"/>
<rect x="517.10" y="307.29" width="8.31" height="42.07" fill="#b0b0b0"/>
<rect x="525.36" y="307.29" width="4.18" height="42.07" fill="#a0a0a0"/>
<rect x="529.50" y="307.29" width="4.18" height="42.07" fill="#808080"/>
<rect x="533.63" y="307.29" width="8.31" height="42.07" fill="#a0a0a0"/>
<rect x="541.89" y="307.29" width="4.18" height="42.07" fill="#a8a8a8"/>
<rect x="546.02" y="307.29" width="4.18" height="42.07" fill="#a0a0a0"/>
<rect x="550.15" y="307.29" width="4.18" height="42.07" fill="#888888"/>
<rect x="554.28" y="307.29" width="4.18" height="42.07" fill="#a0a0a0"/>
<rect x="558.41" y="307.29" width="8.31" height="42.07" fill="#c8c8c8"/>
<rect x="566.67" y="307.29" width="4.18" height="42.07" fill="#c0c0c0"/>
<rect x="570.80" y="307.29" width="4.18" height="42.07" fill="#b0b0b0"/>
<rect x="574.93" y="307.29" width="4.18" height="42.07" fill="#989898"/>
<rect x="579.06" y="307.29" width="8.31" height="42.07" fill="#a0a0a0"/>
<rect x="587.32" y="307.29" width="4.18" height="42.07" fill="#909090"/>
<rect x="591.45" y="307.29" width="4.18" height="42.07" fill="#989898"/>
<rect x="595.58" y="307.29" width="4.18" height="42.07" fill="#e0e0e0"/>
<rect x="599.71" y="307.29" width="4.18" height="42.07" fill="#909090"/>
<rect x="603.85" y="307.29" width="4.18" height="42.07" fill="#989898"/>
<rect x="607.98" y="307.29" width="4.18" height="42.07" fill="#a0a0a0"/>
<rect x="612.11" y="307.29" width="4.18" height="42.07" fill="#d0d0d0"/>
<rect x="616.24" y="307.29" width="4.18" height="42.07" fill="#989898"/>
<rect x="620.37" y="307.29" width="4.18" height="42.07" fill="#a0a0a0"/>
<rect x="624.50" y="307.29" width="4.18" height="42.07" fill="#b8b8b8"/>
<rect x="628.63" y="307.29" width="4.18" height="42.07" fill="#c8c8c8"/>
<rect x="632.76" y="307.29" width="4.18" height="42.07" fill="#a8a8a8"/>
<rect x="636.89" y="307.29" width="4.18" height="42.07" fill="#b0b0b0"/>
<rect x="641.02" y="307.29" width="4.18" height="42.07" fill="#e8e8e8"/>
<rect x="645.15" y="307.29" width="4.18" height="42.07" fill="#c0c0c0"/>
<rect x="649.28" y="307.29" width="4.18" height="42.07" fill="#c8c8c8"/>
<rect x="653.41" y="307.29" width="4.18" height="42.07" fill="#d0d0d0"/>
<rect x="657.54" y="307.29" width="4.18" height="42.07" fill="#d8d8d8"/>
<rect x="661.67" y="307.29" width="4.18" height="42.07" fill="#e0e0e0"/>
<rect x="665.80" y="307.29" width="8.31" height="42.07" fill="#e8e8e8"/>
<rect x="674.07" y="307.29" width="12.44" height="42.07" fill="#f0f0f0"/>
<rect x="686.46" y="307.29" width="4.18" height="42.07" fill="#e0e0e0"/>
<rect x="690.59" y="307.29" width="4.18" height="42.07" fill="#a8a8a8"/>
<rect x="694.72" y="307.29" width="8.31" height="42.07" fill="#c8c8c8"/>
<rect x="702.98" y="307.29" width="8.31" height="42.07" fill="#c0c0c0"/>
<rect x="711.24" y="307.29" width="4.18" height="42.07" fill="#d0d0d0"/>
<rect x="715.37" y="307.29" width="8.31" height="42.07" fill="#e0e0e0"/>
<rect x="723.63" y="307.29" width="4.18" height="42.07" fill="#a8a8a8"/>
<rect x="727.76" y="307.29" width="4.18" height="42.07" fill="#c8c8c8"/>
<rect x="731.89" y="307.29" width="4.18" height="42.07" fill="#c0c0c0"/>
<rect x="736.02" y="307.29" width="4.18" height="42.07" fill="#d8d8d8"/>
<rect x="740.15" y="307.29" width="4.18" height="42.07" fill="#c0c0c0"/>
<rect x="744.29" y="307.29" width="8.31" height="42.07" fill="#d8d8d8"/>
<rect x="752.55" y="307.29" width="8.31" height="42.07" fill="#e0e0e0"/>
<rect x="760.81" y="307.29" width="4.18" height="42.07" fill="#e8e8e8"/>
<rect x="764.94" y="307.29" width="8.31" height="42.07" fill="#e0e0e0"/>
<rect x="773.20" y="307.29" width="20.70" height="42.07" fill="#d0d0d0"/>
<rect x="793.85" y="307.29" width="4.18" height="42.07" fill="#d8d8d8"/>
<rect x="797.98" y="307.29" width="8.31" height="42.07" fill="#e0e0e0"/>
<rect x="806.24" y="307.29" width="4.18" height="42.07" fill="#e8e8e8"/>
<rect x="810.37" y="307.29" width="4.18" height="42.07" fill="#d8d8d8"/>
<rect x="814.50" y="307.29" width="4.18" height="42.07" fill="#a0a0a0"/>
<rect x="818.64" y="307.29" width="4.18" height="42.07" fill="#a8a8a8"/>
<rect x="822.77" y="307.29" width="4.18" height="42.07" fill="#d8d8d8"/>
<rect x="826.90" y="307.29" width="4.18" height="42.07" fill="#e0e0e0"/>
<rect x="831.03" y="307.29" width="4.18" height="42.07" fill="#f0f0f0"/>
<rect x="835.16" y="307.29" width="8.31" height="42.07" fill="#b8b8b8"/>
<rect x="843.42" y="307.29" width="4.18" height="42.07" fill="#a8a8a8"/>
<rect x="847.55" y="307.29" width="8.31" height="42.07" fill="#d8d8d8"/>
<rect x="855.81" y="307.29" width="4.18" height="42.07" fill="#f0f0f0"/>
<rect x="859.94" y="307.29" width="8.31" height="42.07" fill="#e0e0e0"/>
<rect x="868.20" y="307.29" width="4.18" height="42.07" fill="#e8e8e8"/>
<rect x="872.33" y="307.29" width="8.31" height="42.07" fill="#e0e0e0"/>
<rect x="880.59" y="307.29" width="4.18" height="42.07" fill="#d8d8d8"/>
<rect x="884.72" y="307.29" width="4.18" height="42.07" fill="#808080"/>
<rect x="888.86" y="307.29" width="4.18" height="42.07" fill="#d0d0d0"/>
<rect x="892.99" y="307.29" width="4.18" height="42.07" fill="#b8b8b8"/>
<rect x="897.12" y="307.29" width="4.18" height="42.07" fill="#d8d8d8"/>
<rect x="901.25" y="307.29" width="4.18" height="42.07" fill="#e0e0e0"/>
<rect x="905.38" y="307.29" width="4.18" height="42.07" fill="#e8e8e8"/>
<rect x="909.51" y="307.29" width="4.18" height="42.07" fill="#ffffff"/>
<rect x="913.64" y="307.29" width="4.18" height="42.07" fill="#f0f0f0"/>
<rect x="917.77" y="307.29" width="4.18" height="42.07" fill="#ffffff"/>
<rect x="422.10" y="349.32" width="16.57" height="42.07" fill="#000000"/>
<rect x="438.62" y="349.32" width="4.18" height="42.07" fill="#484848"/>
<rect x="442.75" y="349.32" width="4.18" height="42.07" fill="#a0a0a0"/>
<rect x="446.88" y="349.32" width="4.18" height="42.07" fill="#a8a8a8"/>
<rect x="451.01" y="349.32" width="4.18" height="42.07" fill="#909090"/>
<rect x="455.14" y="349.32" width="4.18" height="42.07" fill="#888888"/>
<rect x="459.28" y="349.32" width="8.31" height="42.07" fill="#808080"/>
<rect x="467.54" y="349.32" width="4.18" height="42.07" fill="#909090"/>
<rect x="471.67" y="349.32" width="4.18" height="42.07" fill="#888888"/>
<rect x="475.80" y="349.32" width="8.31" height="42.07" fill="#585858"/>
<rect x="484.06" y="349.32" width="4.18" height="42.07" fill="#505050"/>
<rect x="488.19" y="349.32" width="4.18" height="42.07" fill="#686868"/>
<rect x="492.32" y="349.32" width="4.18" height="42.07" fill="#606060"/>
<rect x="496.45" y="349.32" width="4.18" height="42.07" fill="#909090"/>
<rect x="500.58" y="349.32" width="16.57" height="42.07" fill="#b8b8b8"/>
<rect x="517.10" y="349.32" width="8.31" height="42.07" fill="#a0a0a0"/>
<rect x="525.36" y="349.32" width="4.18" height="42.07" fill="#b0b0b0"/>
<rect x="529.50" y="349.32" width="4.18" height="42.07" fill="#a0a0a0"/>
<rect x="533.63" y="349.32" width="8.31" height="42.07" fill="#989898"/>
<rect x="541.89" y="349.32" width="4.18" height="42.07" fill="#a0a0a0"/>
<rect x="546.02" y="349.32" width="4.18" height="42.07" fill="#c0c0c0"/>
<rect x="550.15" y="349.32" width="4.18" height="42.07" fill="#989898"/>
<rect x="554.28" y="349.32" width="4.18" height="42.07" fill="#a0a0a0"/>
<rect x="558.41" y="349.32" width="8.31" height="42.07" fill="#a8a8a8"/>
<rect x="566.67" y="349.32" width="12.44" height="42.07" fill="#b0b0b0"/>
<rect x="579.06" y="349.32" width="8.31" height="42.07" fill="#c0c0c0"/>
<rect x="587.32" y="349.32" width="8.31" height="42.07" fill="#888888"/>
<rect x="595.58" y="349.32" width="4.18" height="42.07" fill="#909090"/>
<rect x="599.71" y="349.32" width="8.31" height="42.07" fill="#b8b8b8"/>
<rect x="607.98" y="349.32" width="8.31" height="42.07" fill="#c8c8c8"/>
<rect x="616.24" y="349.32" width="4.18" height="42.07" fill="#b8b8b8"/>
<rect x="620.37" y="349.32" width="4.18" height="42.07" fill="#d0d0d0"/>
<rect x="624.50" y="349.32" width="4.18" height="42.07" fill="#b8b8b8"/>
<rect x="628.63" y="349.32" width="4.18" height="42.07" fill="#c8c8c8"/>
<rect x="632.76" y="349.32" width="4.18" height="42.07" fill="#c0c0c0"/>
<rect x="636.89" y="349.32" width="8.31" height="42.07" fill="#b0b0b0"/>
<rect x="645.15" y="349.32" width="4.18" height="42.07" fill="#909090"/>
<rect x="649.28" y="349.32" width="8.31" height="42.07" fill="#c0c0c0"/>
<rect x="657.54" y="349.32" width="4.18" height="42.07" fill="#e8e8e8"/>
<rect x="661.67" y="349.32" width="4.18" height="42.07" fill="#a8a8a8"/>
<rect x="665.80" y="349.32" width="16.57" height="42.07" fill="#e0e0e0"/>
<rect x="682.33" y="349.32" width="4.18" height="42.07" fill="#d8d8d8"/>
<rect x="686.46" y="349.32" width="4.18" height="42.07" fill="#e8e8e8"/>
<rect x="690.59" y="349.32" width="4.18" height="42.07" fill="#e0e0e0"/>
<rect x="694.72" y="349.32" width="8.31" height="42.07" fill="#b8b8b8"/>
<rect x="702.98" y="349.32" width="8.31" height="42.07" fill="#c8c8c8"/>
<rect x="711.24" y="349.32" width="4.18" height="42.07" fill="#d0d0d0"/>
<rect x="715.37" y="349.32" width="4.18" height="42.07" fill="#e8e8e8"/>
<rect x="719.50" y="349.32" width="4.18" height="42.07" fill="#f0f0f0"/>
<rect x="723.63" y="349.32" width="4.18" height="42.07" fill="#e8e8e8"/>
<rect x="727.76" y="349.32" width="8.31" height="42.07" fill="#c8c8c8"/>
<rect x="736.02" y="349.32" width="20.70" height="42.07" fill="#d4d4d4"/>
<rect x="756.68" y="349.32" width="20.70" height="42.07" fill="#d0d0d0"/>
<rect x="777.33" y="349.32" width="16.57" height="42.07" fill="#d4d4d4"/>
<rect x="793.85" y="349.32" width="12.44" height="42.07" fill="#d0d0d0"/>
<rect x="806.24" y="349.32" width="4.18" height="42.07" fill="#b0b0b0"/>
<rect x="810.37" y="349.32" width="4.18" height="42.07" fill="#b8b8b8"/>
<rect x="814.50" y="349.32" width="4.18" height="42.07" fill="#f0f0f0"/>
<rect x="818.64" y="349.32" width="4.18" height="42.07" fill="#a8a8a8"/>
<rect x="822.77" y="349.32" width="8.31" height="42.07" fill="#e0e0e0"/>
<rect x="831.03" y="349.32" width="4.18" height="42.07" fill="#e8e8e8"/>
<rect x="835.16" y="349.32" width="4.18" height="42.07" fill="#d8d8d8"/>
<rect x="839.29" y="349.32" width="8.31" height="42.07" fill="#e0e0e0"/>
<rect x="847.55" y="349.32" width="12.44" height="42.07" fill="#d8d8d8"/>
<rect x="859.94" y="349.32" width="4.18" height="42.07" fill="#d0d0d0"/>
<rect x="864.07" y="349.32" width="8.31" height="42.07" fill="#d8d8d8"/>
<rect x="872.33" y="349.32" width="4.18" height="42.07" fill="#e0e0e0"/>
<rect x="876.46" y="349.32" width="4.18" height="42.07" fill="#c0c0c0"/>
<rect x="880.59" y="349.32" width="4.18" height="42.07" fill="#c8c8c8"/>
<rect x="884.72" y="349.32" width="4.18" height="42.07" fill="#787878"/>
<rect x="888.86" y="349.32" width="4.18" height="42.07" fill="#d8d8d8"/>
<rect x="892.99" y="349.32" width="4.18" height="42.07" fill="#e0e0e0"/>
<rect x="897.12" y="349.32" width="4.18" height="42.07" fill="#a8a8a8"/>
<rect x="901.25" y="349.32" width="4.18" height="42.07" fill="#c8c8c8"/>
<rect x="905.38" y="349.32" width="4.18" height="42.07" fill="#f0f0f0"/>
<rect x="909.51" y="349.32" width="4.18" height="42.07" fill="#f8f8f8"/>
<rect x="913.64" y="349.32" width="4.18" height="42.07" fill="#ffffff"/>
<rect x="917.77" y="349.32" width="4.18" height="42.07" fill="#f0f0f0"/>
<rect x="422.10" y="391.34" width="16.57" height="42.07" fill="#000000"/>
<rect x="438.62" y="391.34" width="4.18" height="42.07" fill="#484848"/>
<rect x="442.75" y="391.34" width="4.18" height="42.07" fill="#909090"/>
<rect x="446.88" y="391.34" width="8.31" height="42.07" fill="#a0a0a0"/>
<rect x="455.14" y="391.34" width="4.18" height="42.07" fill="#989898"/>
<rect x="459.28" y="391.34" width="4.18" height="42.07" fill="#909090"/>
<rect x="463.41" y="391.34" width="4.18" height="42.07" fill="#686868"/>
<rect x="467.54" y="391.34" width="8.31" height="42.07" fill="#707070"/>
<rect x="475.80" y="391.34" width="4.18" height="42.07" fill="#505050"/>
<rect x="479.93" y="391.34" width="4.18" height="42.07" fill="#686868"/>
<rect x="484.06" y="391.34" width="4.18" height="42.07" fill="#787878"/>
<rect x="488.19" y="391.34" width="4.18" height="42.07" fill="#707070"/>
<rect x="492.32" y="391.34" width="4.18" height="42.07" fill="#808080"/>
<rect x="496.45" y="391.34" width="4.18" height="42.07" fill="#505050"/>
<rect x="500.58" y="391.34" width="4.18" height="42.07" fill="#a8a8a8"/>
<rect x="504.71" y="391.34" width="4.18" height="42.07" fill="#b0b0b0"/>
<rect x="508.84" y="391.34" width="4.18" height="42.07" fill="#a8a8a8"/>
<rect x="512.97" y="391.34" width="4.18" height="42.07" fill="#c0c0c0"/>
<rect x="517.10" y="391.34" width="8.31" height="42.07" fill="#b8b8b8"/>
<rect x="525.36" y="391.34" width="4.18" height="42.07" fill="#b0b0b0"/>
<rect x="529.50" y="391.34" width="8.31" height="42.07" fill="#888888"/>
<rect x="537.76" y="391.34" width="4.18" height="42.07" fill="#808080"/>
<rect x="541.89" y="391.34" width="8.31" height="42.07" fill="#909090"/>
<rect x="550.15" y="391.34" width="8.31" height="42.07" fill="#787878"/>
<rect x="558.41" y="391.34" width="8.31" height="42.07" fill="#c0c0c0"/>
<rect x="566.67" y="391.34" width="4.18" height="42.07" fill="#b8b8b8"/>
<rect x="570.80" y="391.34" width="4.18" height="42.07" fill="#c0c0c0"/>
<rect x="574.93" y="391.34" width="4.18" height="42.07" fill="#c8c8c8"/>
<rect x="579.06" y="391.34" width="4.18" height="42.07" fill="#d0d0d0"/>
<rect x="583.19" y="391.34" width="4.18" height="42.07" fill="#b8b8b8"/>
<rect x="587.32" y="391.34" width="4.18" height="42.07" fill="#a0a0a0"/>
<rect x="591.45" y="391.34" width="4.18" height="42.07" fill="#a8a8a8"/>
<rect x="595.58" y="391.34" width="4.18" height="42.07" fill="#b0b0b0"/>
<rect x="599.71" y="391.34" width="4.18" height="42.07" fill="#a8a8a8"/>
<rect x="603.85" y="391.34" width="4.18" height="42.07" fill="#a0a0a0"/>
<rect x="607.98" y="391.34" width="4.18" height="42.07" fill="#b8b8b8"/>
<rect x="612.11" y="391.34" width="4.18" height="42.07" fill="#b0b0b0"/>
<rect x="616.24" y="391.34" width="4.18" height="42.07" fill="#a8a8a8"/>
<rect x="620.37" y="391.34" width="12.44" height="42.07" fill="#b0b0b0"/>
<rect x="632.76" y="391.34" width="4.18" height="42.07" fill="#c8c8c8"/>
<rect x="636.89" y="391.34" width="8.31" height="42.07" fill="#b8b8b8"/>
<rect x="645.15" y="391.34" width="4.18" height="42.07" fill="#a8a8a8"/>
<rect x="649.28" y="391.34" width="4.18" height="42.07" fill="#ffffff"/>
<rect x="653.41" y="391.34" width="4.18" height="42.07" fill="#c8c8c8"/>
<rect x="657.54" y="391.34" width="4.18" height="42.07" fill="#d0d0d0"/>
<rect x="661.67" y="391.34" width="4.18" height="42.07" fill="#c8c8c8"/>
<rect x="665.80" y="391.34" width="4.18" height="42.07" fill="#d8d8d8"/>
<rect x="669.93" y="391.34" width="4.18" height="42.07" fill="#e8e8e8"/>
<rect x="674.07" y="391.34" width="12.44" height="42.07" fill="#f0f0f0"/>
<rect x="686.46" y="391.34" width="4.18" height="42.07" fill="#e0e0e0"/>
<rect x="690.59" y="391.34" width="4.18" height="42.07" fill="#b0b0b0"/>
<rect x="694.72" y="391.34" width="4.18" height="42.07" fill="#c0c0c0"/>
<rect x="698.85" y="391.34" width="4.18" height="42.07" fill="#b8b8b8"/>
<rect x="702.98" y="391.34" width="4.18" height="42.07" fill="#c8c8c8"/>
<rect x="707.11" y="391.34" width="4.18" height="42.07" fill="#c0c0c0"/>
<rect x="711.24" y="391.34" width="4.18" height="42.07" fill="#d0d0d0"/>
<rect x="715.37" y="391.34" width="4.18" height="42.07" fill="#d8d8d8"/>
<rect x="719.50" y="391.34" width="4.18" height="42.07" fill="#c0c0c0"/>
<rect x="723.63" y="391.34" width="4.18" height="42.07" fill="#f0f0f0"/>
<rect x="727.76" y="391.34" width="8.31" height="42.07" fill="#c0c0c0"/>
<rect x="736.02" y="391.34" width="4.18" height="42.07" fill="#c8c8c8"/>
<rect x="740.15" y="391.34" width="8.31" height="42.07" fill="#d8d8d8"/>
<rect x="748.42" y="391.34" width="4.18" height="42.07" fill="#d0d0d0"/>
<rect x="752.55" y="391.34" width="8.31" height="42.07" fill="#e0e0e0"/>
<rect x="760.81" y="391.34" width="8.31" height="42.07" fill="#d0d0d0"/>
<rect x="769.07" y="391.34" width="24.83" height="42.07" fill="#d8d8d8"/>
<rect x="793.85" y="391.34" width="8.31" height="42.07" fill="#c0c0c0"/>
<rect x="802.11" y="391.34" width="8.31" height="42.07" fill="#d8d8d8"/>
<rect x="810.37" y="391.34" width="4.18" height="42.07" fill="#e0e0e0"/>
<rect x="814.50" y="391.34" width="4.18" height="42.07" fill="#c8c8c8"/>
<rect x="818.64" y="391.34" width="4.18" height="42.07" fill="#b0b0b0"/>
<rect x="822.77" y="391.34" width="4.18" height="42.07" fill="#c0c0c0"/>
<rect x="826.90" y="391.34" width="8.31" height="42.07" fill="#e8e8e8"/>
<rect x="835.16" y="391.34" width="4.18" height="42.07" fill="#d0d0d0"/>
<rect x="839.29" y="391.34" width="12.44" height="42.07" fill="#d8d8d8"/>
<rect x="851.68" y="391.34" width="8.31" height="42.07" fill="#c8c8c8"/>
<rect x="859.94" y="391.34" width="4.18" height="42.07" fill="#d0d0d0"/>
<rect x="864.07" y="391.34" width="16.57" height="42.07" fill="#e8e8e8"/>
<rect x="880.59" y="391.34" width="4.18" height="42.07" fill="#f0f0f0"/>
<rect x="884.72" y="391.34" width="4.18" height="42.07" fill="#ffffff"/>
<rect x="888.86" y="391.34" width="4.18" height="42.07" fill="#e0e0e0"/>
<rect x="892.99" y="391.34" width="4.18" height="42.07" fill="#c8c8c8"/>
<rect x="897.12" y="391.34" width="4.18" height="42.07" fill="#e8e8e8"/>
<rect x="901.25" y="391.34" width="4.18" height="42.07" fill="#d8d8d8"/>
<rect x="905.38" y="391.34" width="4.18" height="42.07" fill="#f0f0f0"/>
<rect x="909.51" y="391.34" width="12.44" height="42.07" fill="#ffffff"/>
<rect x="422.10" y="433.36" width="16.57" height="42.07" fill="#000000"/>
<rect x="438.62" y="433.36" width="4.18" height="42.07" fill="#505050"/>
<rect x="442.75" y="433.36" width="4.18" height="42.07" fill="#989898"/>
<rect x="446.88" y="433.36" width="4.18" height="42.07" fill="#787878"/>
<rect x="451.01" y="433.36" width="4.18" height="42.07" fill="#686868"/>
<rect x="455.14" y="433.36" width="4.18" height="42.07" fill="#787878"/>
<rect x="459.28" y="433.36" width="8.31" height="42.07" fill="#909090"/>
<rect x="467.54" y="433.36" width="8.31" height="42.07" fill="#888888"/>
<rect x="475.80" y="433.36" width="8.31" height="42.07" fill="#707070"/>
<rect x="484.06" y="433.36" width="4.18" height="42.07" fill="#787878"/>
<rect x="488.19" y="433.36" width="8.31" height="42.07" fill="#808080"/>
<rect x="496.45" y="433.36" width="4.18" height="42.07" fill="#888888"/>
<rect x="500.58" y="433.36" width="8.31" height="42.07" fill="#b0b0b0"/>
<rect x="508.84" y="433.36" width="8.31" height="42.07" fill="#c0c0c0"/>
<rect x="517.10" y="433.36" width="4.18" height="42.07" fill="#989898"/>
<rect x="521.23" y="433.36" width="4.18" height="42.07" fill="#909090"/>
<rect x="525.36" y="433.36" width="4.18" height="42.07" fill="#989898"/>
<rect x="529.50" y="433.36" width="4.18" height="42.07" fill="#b8b8b8"/>
<rect x="533.63" y="433.36" width="4.18" height="42.07" fill="#b0b0b0"/>
<rect x="537.76" y="433.36" width="8.31" height="42.07" fill="#909090"/>
<rect x="546.02" y="433.36" width="16.57" height="42.07" fill="#b8b8b8"/>
<rect x="562.54" y="433.36" width="4.18" height="42.07" fill="#a0a0a0"/>
<rect x="566.67" y="433.36" width="8.31" height="42.07" fill="#c8c8c8"/>
<rect x="574.93" y="433.36" width="8.31" height="42.07" fill="#c0c0c0"/>
<rect x="583.19" y="433.36" width="4.18" height="42.07" fill="#d8d8d8"/>
<rect x="587.32" y="433.36" width="4.18" height="42.07" fill="#808080"/>
<rect x="591.45" y="433.36" width="4.18" height="42.07" fill="#a0a0a0"/>
<rect x="595.58" y="433.36" width="4.18" height="42.07" fill="#808080"/>
<rect x="599.71" y="433.36" width="4.18" height="42.07" fill="#b0b0b0"/>
<rect x="603.85" y="433.36" width="8.31" height="42.07" fill="#d0d0d0"/>
<rect x="612.11" y="433.36" width="12.44" height="42.07" fill="#b8b8b8"/>
<rect x="624.50" y="433.36" width="8.31" height="42.07" fill="#c0c0c0"/>
<rect x="632.76" y="433.36" width="4.18" height="42.07" fill="#e0e0e0"/>
<rect x="636.89" y="433.36" width="4.18" height="42.07" fill="#a0a0a0"/>
<rect x="641.02" y="433.36" width="4.18" height="42.07" fill="#a8a8a8"/>
<rect x="645.15" y="433.36" width="4.18" height="42.07" fill="#a0a0a0"/>
<rect x="649.28" y="433.36" width="4.18" height="42.07" fill="#ffffff"/>
<rect x="653.41" y="433.36" width="4.18" height="42.07" fill="#e8e8e8"/>
<rect x="657.54" y="433.36" width="8.31" height="42.07" fill="#f0f0f0"/>
<rect x="665.80" y="433.36" width="4.18" height="42.07" fill="#e0e0e0"/>
<rect x="669.93" y="433.36" width="4.18" height="42.07" fill="#e8e8e8"/>
<rect x="674.07" y="433.36" width="4.18" height="42.07" fill="#f0f0f0"/>
<rect x="678.20" y="433.36" width="4.18" height="42.07" fill="#ffffff"/>
<rect x="682.33" y="433.36" width="4.18" height="42.07" fill="#f0f0f0"/>
<rect x="686.46" y="433.36" width="4.18" height="42.07" fill="#e0e0e0"/>
<rect x="690.59" y="433.36" width="4.18" height="42.07" fill="#a0a0a0"/>
<rect x="694.72" y="433.36" width="4.18" height="42.07" fill="#a8a8a8"/>
<rect x="698.85" y="433.36" width="4.18" height="42.07" fill="#b0b0b0"/>
<rect x="702.98" y="433.36" width="4.18" height="42.07" fill="#b8b8b8"/>
<rect x="707.11" y="433.36" width="4.18" height="42.07" fill="#d0d0d0"/>
<rect x="711.24" y="433.36" width="4.18" height="42.07" fill="#a0a0a0"/>
<rect x="715.37" y="433.36" width="4.18" height="42.07" fill="#c8c8c8"/>
<rect x="719.50" y="433.36" width="4.18" height="42.07" fill="#f0f0f0"/>
<rect x="723.63" y="433.36" width="4.18" height="42.07" fill="#e0e0e0"/>
<rect x="727.76" y="433.36" width="4.18" height="42.07" fill="#d0d0d0"/>
<rect x="731.89" y="433.36" width="12.44" height="42.07" fill="#d4d4d4"/>
<rect x="744.29" y="433.36" width="12.44" height="42.07" fill="#c8c8c8"/>
<rect x="756.68" y="433.36" width="4.18" height="42.07" fill="#d0d0d0"/>
<rect x="760.81" y="433.36" width="4.18" height="42.07" fill="#e0e0e0"/>
<rect x="764.94" y="433.36" width="4.18" height="42.07" fill="#d0d0d0"/>
<rect x="769.07" y="433.36" width="4.18" height="42.07" fill="#e0e0e0"/>
<rect x="773.20" y="433.36" width="4.18" height="42.07" fill="#c8c8c8"/>
<rect x="777.33" y="433.36" width="16.57" height="42.07" fill="#c0c0c0"/>
<rect x="793.85" y="433.36" width="4.18" height="42.07" fill="#c8c8c8"/>
<rect x="797.98" y="433.36" width="4.18" height="42.07" fill="#e0e0e0"/>
<rect x="802.11" y="433.36" width="4.18" height="42.07" fill="#d8d8d8"/>
<rect x="806.24" y="433.36" width="4.18" height="42.07" fill="#f0f0f0"/>
<rect x="810.37" y="433.36" width="4.18" height="42.07" fill="#d0d0d0"/>
<rect x="814.50" y="433.36" width="16.57" height="42.07" fill="#e0e0e0"/>
<rect x="831.03" y="433.36" width="4.18" height="42.07" fill="#f0f0f0"/>
<rect x="835.16" y="433.36" width="8.31" height="42.07" fill="#e0e0e0"/>
<rect x="843.42" y="433.36" width="4.18" height="42.07" fill="#e8e8e8"/>
<rect x="847.55" y="433.36" width="4.18" height="42.07" fill="#a8a8a8"/>
<rect x="851.68" y="433.36" width="4.18" height="42.07" fill="#b8b8b8"/>
<rect x="855.81" y="433.36" width="12.44" height="42.07" fill="#e0e0e0"/>
<rect x="868.20" y="433.36" width="8.31" height="42.07" fill="#e4e4e4"/>
<rect x="876.46" y="433.36" width="4.18" height="42.07" fill="#e8e8e8"/>
<rect x="880.59" y="433.36" width="4.18" height="42.07" fill="#f0f0f0"/>
<rect x="884.72" y="433.36" width="4.18" height="42.07" fill="#ffffff"/>
<rect x="888.86" y="433.36" width="4.18" height="42.07" fill="#f0f0f0"/>
<rect x="892.99" y="433.36" width="4.18" height="42.07" fill="#ffffff"/>
<rect x="897.12" y="433.36" width="4.18" height="42.07" fill="#e8e8e8"/>
<rect x="901.25" y="433.36" width="4.18" height="42.07" fill="#f0f0f0"/>
<rect x="905.38" y="433.36" width="4.18" height="42.07" fill="#f8f8f8"/>
<rect x="909.51" y="433.36" width="8.31" height="42.07" fill="#ffffff"/>
<rect x="917.77" y="433.36" width="4.18" height="42.07" fill="#d8d8d8"/>
<rect x="422.10" y="475.39" width="16.57" height="42.07" fill="#000000"/>
<rect x="438.62" y="475.39" width="4.18" height="42.07" fill="#404040"/>
<rect x="442.75" y="475.39" width="4.18" height="42.07" fill="#a0a0a0"/>
<rect x="446.88" y="475.39" width="4.18" height="42.07" fill="#808080"/>
<rect x="451.01" y="475.39" width="4.18" height="42.07" fill="#787878"/>
<rect x="455.14" y="475.39" width="4.18" height="42.07" fill="#808080"/>
<rect x="459.28" y="475.39" width="4.18" height="42.07" fill="#909090"/>
<rect x="463.41" y="475.39" width="4.18" height="42.07" fill="#b8b8b8"/>
<rect x="467.54" y="475.39" width="4.18" height="42.07" fill="#989898"/>
<rect x="471.67" y="475.39" width="4.18" height="42.07" fill="#909090"/>
<rect x="475.80" y="475.39" width="4.18" height="42.07" fill="#808080"/>
<rect x="479.93" y="475.39" width="4.18" height="42.07" fill="#888888"/>
<rect x="484.06" y="475.39" width="4.18" height="42.07" fill="#a0a0a0"/>
<rect x="488.19" y="475.39" width="8.31" height="42.07" fill="#a8a8a8"/>
<rect x="496.45" y="475.39" width="4.18" height="42.07" fill="#a0a0a0"/>
<rect x="500.58" y="475.39" width="8.31" height="42.07" fill="#888888"/>
<rect x="508.84" y="475.39" width="4.18" height="42.07" fill="#909090"/>
<rect x="512.97" y="475.39" width="8.31" height="42.07" fill="#a0a0a0"/>
<rect x="521.23" y="475.39" width="4.18" height="42.07" fill="#989898"/>
<rect x="525.36" y="475.39" width="4.18" height="42.07" fill="#d0d0d0"/>
<rect x="529.50" y="475.39" width="4.18" height="42.07" fill="#b0b0b0"/>
<rect x="533.63" y="475.39" width="4.18" height="42.07" fill="#a0a0a0"/>
<rect x="537.76" y="475.39" width="4.18" height="42.07" fill="#c0c0c0"/>
<rect x="541.89" y="475.39" width="8.31" height="42.07" fill="#b0b0b0"/>
<rect x="550.15" y="475.39" width="4.18" height="42.07" fill="#a0a0a0"/>
<rect x="554.28" y="475.39" width="12.44" height="42.07" fill="#a8a8a8"/>
<rect x="566.67" y="475.39" width="8.31" height="42.07" fill="#b0b0b0"/>
<rect x="574.93" y="475.39" width="12.44" height="42.07" fill="#b8b8b8"/>
<rect x="587.32" y="475.39" width="4.18" height="42.07" fill="#b0b0b0"/>
<rect x="591.45" y="475.39" width="4.18" height="42.07" fill="#b8b8b8"/>
<rect x="595.58" y="475.39" width="12.44" height="42.07" fill="#a0a0a0"/>
<rect x="607.98" y="475.39" width="4.18" height="42.07" fill="#c8c8c8"/>
<rect x="612.11" y="475.39" width="4.18" height="42.07" fill="#a8a8a8"/>
<rect x="616.24" y="475.39" width="4.18" height="42.07" fill="#c8c8c8"/>
<rect x="620.37" y="475.39" width="4.18" height="42.07" fill="#d8d8d8"/>
<rect x="624.50" y="475.39" width="8.31" height="42.07" fill="#b8b8b8"/>
<rect x="632.76" y="475.39" width="4.18" height="42.07" fill="#b0b0b0"/>
<rect x="636.89" y="475.39" width="4.18" height="42.07" fill="#a8a8a8"/>
<rect x="641.02" y="475.39" width="4.18" height="42.07" fill="#c8c8c8"/>
<rect x="645.15" y="475.39" width="12.44" height="42.07" fill="#d0d0d0"/>
<rect x="657.54" y="475.39" width="8.31" height="42.07" fill="#c8c8c8"/>
<rect x="665.80" y="475.39" width="4.18" height="42.07" fill="#e0e0e0"/>
<rect x="669.93" y="475.39" width="4.18" height="42.07" fill="#e8e8e8"/>
<rect x="674.07" y="475.39" width="4.18" height="42.07" fill="#f8f8f8"/>
<rect x="678.20" y="475.39" width="8.31" height="42.07" fill="#e8e8e8"/>
<rect x="686.46" y="475.39" width="4.18" height="42.07" fill="#e0e0e0"/>
<rect x="690.59" y="475.39" width="4.18" height="42.07" fill="#d8d8d8"/>
<rect x="694.72" y="475.39" width="4.18" height="42.07" fill="#b8b8b8"/>
<rect x="698.85" y="475.39" width="4.18" height="42.07" fill="#c0c0c0"/>
<rect x="702.98" y="475.39" width="4.18" height="42.07" fill="#c8c8c8"/>
<rect x="707.11" y="475.39" width="4.18" height="42.07" fill="#c0c0c0"/>
<rect x="711.24" y="475.39" width="4.18" height="42.07" fill="#989898"/>
<rect x="715.37" y="475.39" width="8.31" height="42.07" fill="#d0d0d0"/>
<rect x="723.63" y="475.39" width="4.18" height="42.07" fill="#e0e0e0"/>
<rect x="727.76" y="475.39" width="4.18" height="42.07" fill="#d0d0d0"/>
<rect x="731.89" y="475.39" width="4.18" height="42.07" fill="#d8d8d8"/>
<rect x="736.02" y="475.39" width="8.31" height="42.07" fill="#c8c8c8"/>
<rect x="744.29" y="475.39" width="12.44" height="42.07" fill="#d8d8d8"/>
<rect x="756.68" y="475.39" width="8.31" height="42.07" fill="#c8c8c8"/>
<rect x="764.94" y="475.39" width="4.18" height="42.07" fill="#d0d0d0"/>
<rect x="769.07" y="475.39" width="8.31" height="42.07" fill="#d8d8d8"/>
<rect x="777.33" y="475.39" width="8.31" height="42.07" fill="#e0e0e0"/>
<rect x="785.59" y="475.39" width="8.31" height="42.07" fill="#d0d0d0"/>
<rect x="793.85" y="475.39" width="16.57" height="42.07" fill="#c8c8c8"/>
<rect x="810.37" y="475.39" width="8.31" height="42.07" fill="#d8d8d8"/>
<rect x="818.64" y="475.39" width="4.18" height="42.07" fill="#f0f0f0"/>
<rect x="822.77" y="475.39" width="4.18" height="42.07" fill="#d0d0d0"/>
<rect x="826.90" y="475.39" width="4.18" height="42.07" fill="#e0e0e0"/>
<rect x="831.03" y="475.39" width="4.18" height="42.07" fill="#d0d0d0"/>
<rect x="835.16" y="475.39" width="16.57" height="42.07" fill="#e0e0e0"/>
<rect x="851.68" y="475.39" width="4.18" height="42.07" fill="#e8e8e8"/>
<rect x="855.81" y="475.39" width="4.18" height="42.07" fill="#f0f0f0"/>
<rect x="859.94" y="475.39" width="4.18" height="42.07" fill="#d0d0d0"/>
<rect x="864.07" y="475.39" width="4.18" height="42.07" fill="#c8c8c8"/>
<rect x="868.20" y="475.39" width="12.44" height="42.07" fill="#e8e8e8"/>
<rect x="880.59" y="475.39" width="4.18" height="42.07" fill="#d8d8d8"/>
<rect x="884.72" y="475.39" width="4.18" height="42.07" fill="#808080"/>
<rect x="888.86" y="475.39" width="4.18" height="42.07" fill="#f0f0f0"/>
<rect x="892.99" y="475.39" width="4.18" height="42.07" fill="#ffffff"/>
<rect x="897.12" y="475.39" width="12.44" height="42.07" fill="#f8f8f8"/>
<rect x="909.51" y="475.39" width="4.18" height="42.07" fill="#ffffff"/>
<rect x="913.64" y="475.39" width="8.31" height="42.07" fill="#f0f0f0"/>
<rect x="422.10" y="517.41" width="16.57" height="42.07" fill="#000000"/>
<rect x="438.62" y="517.41" width="4.18" height="42.07" fill="#707070"/>
<rect x="442.75" y="517.41" width="8.31" height="42.07" fill="#a8a8a8"/>
<rect x="451.01" y="517.41" width="4.18" height="42.07" fill="#a0a0a0"/>
<rect x="455.14" y="517.41" width="4.18" height="42.07" fill="#888888"/>
<rect x="459.28" y="517.41" width="4.18" height="42.07" fill="#808080"/>
<rect x="463.41" y="517.41" width="8.31" height="42.07" fill="#a0a0a0"/>
<rect x="471.67" y="517.41" width="4.18" height="42.07" fill="#b0b0b0"/>
<rect x="475.80" y="517.41" width="4.18" height="42.07" fill="#888888"/>
<rect x="479.93" y="517.41" width="4.18" height="42.07" fill="#909090"/>
<rect x="484.06" y="517.41" width="4.18" height="42.07" fill="#787878"/>
<rect x="488.19" y="517.41" width="8.31" height="42.07" fill="#888888"/>
<rect x="496.45" y="517.41" width="4.18" height="42.07" fill="#909090"/>
<rect x="500.58" y="517.41" width="16.57" height="42.07" fill="#b8b8b8"/>
<rect x="517.10" y="517.41" width="4.18" height="42.07" fill="#b0b0b0"/>
<rect x="521.23" y="517.41" width="4.18" height="42.07" fill="#909090"/>
<rect x="525.36" y="517.41" width="4.18" height="42.07" fill="#a0a0a0"/>
<rect x="529.50" y="517.41" width="4.18" height="42.07" fill="#c0c0c0"/>
<rect x="533.63" y="517.41" width="12.44" height="42.07" fill="#b8b8b8"/>
<rect x="546.02" y="517.41" width="4.18" height="42.07" fill="#b0b0b0"/>
<rect x="550.15" y="517.41" width="4.18" height="42.07" fill="#909090"/>
<rect x="554.28" y="517.41" width="4.18" height="42.07" fill="#989898"/>
<rect x="558.41" y="517.41" width="4.18" height="42.07" fill="#c0c0c0"/>
<rect x="562.54" y="517.41" width="4.18" height="42.07" fill="#a0a0a0"/>
<rect x="566.67" y="517.41" width="12.44" height="42.07" fill="#b8b8b8"/>
<rect x="579.06" y="517.41" width="4.18" height="42.07" fill="#e0e0e0"/>
<rect x="583.19" y="517.41" width="4.18" height="42.07" fill="#d8d8d8"/>
<rect x="587.32" y="517.41" width="4.18" height="42.07" fill="#909090"/>
<rect x="591.45" y="517.41" width="4.18" height="42.07" fill="#b0b0b0"/>
<rect x="595.58" y="517.41" width="4.18" height="42.07" fill="#a0a0a0"/>
<rect x="599.71" y="517.41" width="4.18" height="42.07" fill="#808080"/>
<rect x="603.85" y="517.41" width="4.18" height="42.07" fill="#787878"/>
<rect x="607.98" y="517.41" width="8.31" height="42.07" fill="#a0a0a0"/>
<rect x="616.24" y="517.41" width="4.18" height="42.07" fill="#e8e8e8"/>
<rect x="620.37" y="517.41" width="4.18" height="42.07" fill="#e0e0e0"/>
<rect x="624.50" y="517.41" width="4.18" height="42.07" fill="#c0c0c0"/>
<rect x="628.63" y="517.41" width="4.18" height="42.07" fill="#b8b8b8"/>
<rect x="632.76" y="517.41" width="4.18" height="42.07" fill="#b0b0b0"/>
<rect x="636.89" y="517.41" width="4.18" height="42.07" fill="#c0c0c0"/>
<rect x="641.02" y="517.41" width="4.18" height="42.07" fill="#e0e0e0"/>
<rect x="645.15" y="517.41" width="4.18" height="42.07" fill="#ffffff"/>
<rect x="649.28" y="517.41" width="4.18" height="42.07" fill="#c8c8c8"/>
<rect x="653.41" y="517.41" width="4.18" height="42.07" fill="#d0d0d0"/>
<rect x="657.54" y="517.41" width="8.31" height="42.07" fill="#e0e0e0"/>
<rect x="665.80" y="517.41" width="8.31" height="42.07" fill="#e8e8e8"/>
<rect x="674.07" y="517.41" width="4.18" height="42.07" fill="#f0f0f0"/>
<rect x="678.20" y="517.41" width="4.18" height="42.07" fill="#f8f8f8"/>
<rect x="682.33" y="517.41" width="4.18" height="42.07" fill="#ffffff"/>
<rect x="686.46" y="517.41" width="4.18" height="42.07" fill="#e8e8e8"/>
<rect x="690.59" y="517.41" width="4.18" height="42.07" fill="#e0e0e0"/>
<rect x="694.72" y="517.41" width="4.18" height="42.07" fill="#909090"/>
<rect x="698.85" y="517.41" width="4.18" height="42.07" fill="#b0b0b0"/>
<rect x="702.98" y="517.41" width="4.18" height="42.07" fill="#b8b8b8"/>
<rect x="707.11" y="517.41" width="8.31" height="42.07" fill="#d8d8d8"/>
<rect x="715.37" y="517.41" width="4.18" height="42.07" fill="#c0c0c0"/>
<rect x="719.50" y="517.41" width="4.18" height="42.07" fill="#d8d8d8"/>
<rect x="723.63" y="517.41" width="4.18" height="42.07" fill="#e0e0e0"/>
<rect x="727.76" y="517.41" width="4.18" height="42.07" fill="#c8c8c8"/>
<rect x="731.89" y="517.41" width="4.18" height="42.07" fill="#d0d0d0"/>
<rect x="736.02" y="517.41" width="12.44" height="42.07" fill="#d8d8d8"/>
<rect x="748.42" y="517.41" width="12.44" height="42.07" fill="#d0d0d0"/>
<rect x="760.81" y="517.41" width="16.57" height="42.07" fill="#d8d8d8"/>
<rect x="777.33" y="517.41" width="4.18" height="42.07" fill="#b8b8b8"/>
<rect x="781.46" y="517.41" width="4.18" height="42.07" fill="#c8c8c8"/>
<rect x="785.59" y="517.41" width="8.31" height="42.07" fill="#e0e0e0"/>
<rect x="793.85" y="517.41" width="4.18" height="42.07" fill="#c8c8c8"/>
<rect x="797.98" y="517.41" width="8.31" height="42.07" fill="#d8d8d8"/>
<rect x="806.24" y="517.41" width="4.18" height="42.07" fill="#a8a8a8"/>
<rect x="810.37" y="517.41" width="8.31" height="42.07" fill="#e0e0e0"/>
<rect x="818.64" y="517.41" width="4.18" height="42.07" fill="#d8d8d8"/>
<rect x="822.77" y="517.41" width="4.18" height="42.07" fill="#d0d0d0"/>
<rect x="826.90" y="517.41" width="8.31" height="42.07" fill="#e8e8e8"/>
<rect x="835.16" y="517.41" width="4.18" height="42.07" fill="#d8d8d8"/>
<rect x="839.29" y="517.41" width="4.18" height="42.07" fill="#e8e8e8"/>
<rect x="843.42" y="517.41" width="8.31" height="42.07" fill="#d0d0d0"/>
<rect x="851.68" y="517.41" width="4.18" height="42.07" fill="#f0f0f0"/>
<rect x="855.81" y="517.41" width="20.70" height="42.07" fill="#e8e8e8"/>
<rect x="876.46" y="517.41" width="4.18" height="42.07" fill="#d8d8d8"/>
<rect x="880.59" y="517.41" width="4.18" height="42.07" fill="#e8e8e8"/>
<rect x="884.72" y="517.41" width="4.18" height="42.07" fill="#ffffff"/>
<rect x="888.86" y="517.41" width="4.18" height="42.07" fill="#e0e0e0"/>
<rect x="892.99" y="517.41" width="4.18" height="42.07" fill="#e8e8e8"/>
<rect x="897.12" y="517.41" width="4.18" height="42.07" fill="#f0f0f0"/>
<rect x="901.25" y="517.41" width="4.18" height="42.07" fill="#e0e0e0"/>
<rect x="905.38" y="517.41" width="4.18" height="42.07" fill="#e8e8e8"/>
<rect x="909.51" y="517.41" width="4.18" height="42.07" fill="#f8f8f8"/>
<rect x="913.64" y="517.41" width="8.31" height="42.07" fill="#f0f0f0"/>
<rect x="422.10" y="559.44" width="16.57" height="42.07" fill="#000000"/>
<rect x="438.62" y="559.44" width="4.18" height="42.07" fill="#484848"/>
<rect x="442.75" y="559.44" width="4.18" height="42.07" fill="#787878"/>
<rect x="446.88" y="559.44" width="4.18" height="42.07" fill="#a8a8a8"/>
<rect x="451.01" y="559.44" width="4.18" height="42.07" fill="#888888"/>
<rect x="455.14" y="559.44" width="4.18" height="42.07" fill="#909090"/>
<rect x="459.28" y="559.44" width="4.18" height="42.07" fill="#c0c0c0"/>
<rect x="463.41" y="559.44" width="4.18" height="42.07" fill="#989898"/>
<rect x="467.54" y="559.44" width="4.18" height="42.07" fill="#909090"/>
<rect x="471.67" y="559.44" width="12.44" height="42.07" fill="#a0a0a0"/>
<rect x="484.06" y="559.44" width="4.18" height="42.07" fill="#909090"/>
<rect x="488.19" y="559.44" width="8.31" height="42.07" fill="#787878"/>
<rect x="496.45" y="559.44" width="4.18" height="42.07" fill="#888888"/>
<rect x="500.58" y="559.44" width="4.18" height="42.07" fill="#a0a0a0"/>
<rect x="504.71" y="559.44" width="4.18" height="42.07" fill="#a8a8a8"/>
<rect x="508.84" y="559.44" width="8.31" height="42.07" fill="#989898"/>
<rect x="517.10" y="559.44" width="12.44" height="42.07" fill="#b8b8b8"/>
<rect x="529.50" y="559.44" width="4.18" height="42.07" fill="#b0b0b0"/>
<rect x="533.63" y="559.44" width="4.18" height="42.07" fill="#a0a0a0"/>
<rect x="537.76" y="559.44" width="4.18" height="42.07" fill="#e0e0e0"/>
<rect x="541.89" y="559.44" width="4.18" height="42.07" fill="#d8d8d8"/>
<rect x="546.02" y="559.44" width="4.18" height="42.07" fill="#b8b8b8"/>
<rect x="550.15" y="559.44" width="4.18" height="42.07" fill="#a8a8a8"/>
<rect x="554.28" y="559.44" width="4.18" height="42.07" fill="#b8b8b8"/>
<rect x="558.41" y="559.44" width="4.18" height="42.07" fill="#c0c0c0"/>
<rect x="562.54" y="559.44" width="4.18" height="42.07" fill="#888888"/>
<rect x="566.67" y="559.44" width="4.18" height="42.07" fill="#b0b0b0"/>
<rect x="570.80" y="559.44" width="4.18" height="42.07" fill="#c0c0c0"/>
<rect x="574.93" y="559.44" width="4.18" height="42.07" fill="#b8b8b8"/>
<rect x="579.06" y="559.44" width="8.31" height="42.07" fill="#d0d0d0"/>
<rect x="587.32" y="559.44" width="4.18" height="42.07" fill="#b8b8b8"/>
<rect x="591.45" y="559.44" width="4.18" height="42.07" fill="#909090"/>
<rect x="595.58" y="559.44" width="4.18" height="42.07" fill="#686868"/>
<rect x="599.71" y="559.44" width="8.31" height="42.07" fill="#a0a0a0"/>
<rect x="607.98" y="559.44" width="4.18" height="42.07" fill="#d0d0d0"/>
<rect x="612.11" y="559.44" width="4.18" height="42.07" fill="#d8d8d8"/>
<rect x="616.24" y="559.44" width="12.44" height="42.07" fill="#c0c0c0"/>
<rect x="628.63" y="559.44" width="4.18" height="42.07" fill="#989898"/>
<rect x="632.76" y="559.44" width="4.18" height="42.07" fill="#c8c8c8"/>
<rect x="636.89" y="559.44" width="4.18" height="42.07" fill="#a8a8a8"/>
<rect x="641.02" y="559.44" width="4.18" height="42.07" fill="#c0c0c0"/>
<rect x="645.15" y="559.44" width="4.18" height="42.07" fill="#989898"/>
<rect x="649.28" y="559.44" width="4.18" height="42.07" fill="#f0f0f0"/>
<rect x="653.41" y="559.44" width="4.18" height="42.07" fill="#d8d8d8"/>
<rect x="657.54" y="559.44" width="4.18" height="42.07" fill="#d0d0d0"/>
<rect x="661.67" y="559.44" width="4.18" height="42.07" fill="#c0c0c0"/>
<rect x="665.80" y="559.44" width="4.18" height="42.07" fill="#f0f0f0"/>
<rect x="669.93" y="559.44" width="4.18" height="42.07" fill="#e8e8e8"/>
<rect x="674.07" y="559.44" width="4.18" height="42.07" fill="#e0e0e0"/>
<rect x="678.20" y="559.44" width="4.18" height="42.07" fill="#e8e8e8"/>
<rect x="682.33" y="559.44" width="4.18" height="42.07" fill="#f0f0f0"/>
<rect x="686.46" y="559.44" width="4.18" height="42.07" fill="#e8e8e8"/>
<rect x="690.59" y="559.44" width="4.18" height="42.07" fill="#c8c8c8"/>
<rect x="694.72" y="559.44" width="8.31" height="42.07" fill="#d8d8d8"/>
<rect x="702.98" y="559.44" width="4.18" height="42.07" fill="#c0c0c0"/>
<rect x="707.11" y="559.44" width="4.18" height="42.07" fill="#c8c8c8"/>
<rect x="711.24" y="559.44" width="4.18" height="42.07" fill="#989898"/>
<rect x="715.37" y="559.44" width="4.18" height="42.07" fill="#b8b8b8"/>
<rect x="719.50" y="559.44" width="4.18" height="42.07" fill="#c0c0c0"/>
<rect x="723.63" y="559.44" width="4.18" height="42.07" fill="#e0e0e0"/>
<rect x="727.76" y="559.44" width="4.18" height="42.07" fill="#c0c0c0"/>
<rect x="731.89" y="559.44" width="16.57" height="42.07" fill="#d0d0d0"/>
<rect x="748.42" y="559.44" width="12.44" height="42.07" fill="#d8d8d8"/>
<rect x="760.81" y="559.44" width="4.18" height="42.07" fill="#d0d0d0"/>
<rect x="764.94" y="559.44" width="12.44" height="42.07" fill="#c8c8c8"/>
<rect x="777.33" y="559.44" width="8.31" height="42.07" fill="#d8d8d8"/>
<rect x="785.59" y="559.44" width="8.31" height="42.07" fill="#d0d0d0"/>
<rect x="793.85" y="559.44" width="4.18" height="42.07" fill="#c8c8c8"/>
<rect x="797.98" y="559.44" width="8.31" height="42.07" fill="#d0d0d0"/>
<rect x="806.24" y="559.44" width="4.18" height="42.07" fill="#a8a8a8"/>
<rect x="810.37" y="559.44" width="4.18" height="42.07" fill="#d8d8d8"/>
<rect x="814.50" y="559.44" width="4.18" height="42.07" fill="#e0e0e0"/>
<rect x="818.64" y="559.44" width="4.18" height="42.07" fill="#e8e8e8"/>
<rect x="822.77" y="559.44" width="8.31" height="42.07" fill="#e0e0e0"/>
<rect x="831.03" y="559.44" width="8.31" height="42.07" fill="#e8e8e8"/>
<rect x="839.29" y="559.44" width="4.18" height="42.07" fill="#d0d0d0"/>
<rect x="843.42" y="559.44" width="8.31" height="42.07" fill="#e8e8e8"/>
<rect x="851.68" y="559.44" width="4.18" height="42.07" fill="#b8b8b8"/>
<rect x="855.81" y="559.44" width="4.18" height="42.07" fill="#c0c0c0"/>
<rect x="859.94" y="559.44" width="16.57" height="42.07" fill="#d8d8d8"/>
<rect x="876.46" y="559.44" width="4.18" height="42.07" fill="#e0e0e0"/>
<rect x="880.59" y="559.44" width="4.18" height="42.07" fill="#e8e8e8"/>
<rect x="884.72" y="559.44" width="4.18" height="42.07" fill="#ffffff"/>
<rect x="888.86" y="559.44" width="16.57" height="42.07" fill="#f0f0f0"/>
<rect x="905.38" y="559.44" width="4.18" height="42.07" fill="#f8f8f8"/>
<rect x="909.51" y="559.44" width="4.18" height="42.07" fill="#ffffff"/>
<rect x="913.64" y="559.44" width="8.31" height="42.07" fill="#f8f8f8"/>
<rect x="422.10" y="601.46" width="16.57" height="42.07" fill="#000000"/>
<rect x="438.62" y="601.46" width="4.18" height="42.07" fill="#888888"/>
<rect x="442.75" y="601.46" width="8.31" height="42.07" fill="#a0a0a0"/>
<rect x="451.01" y="601.46" width="4.18" height="42.07" fill="#787878"/>
<rect x="455.14" y="601.46" width="4.18" height="42.07" fill="#686868"/>
<rect x="459.28" y="601.46" width="4.18" height="42.07" fill="#787878"/>
<rect x="463.41" y="601.46" width="4.18" height="42.07" fill="#808080"/>
<rect x="467.54" y="601.46" width="8.31" height="42.07" fill="#a0a0a0"/>
<rect x="475.80" y="601.46" width="12.44" height="42.07" fill="#787878"/>
<rect x="488.19" y="601.46" width="4.18" height="42.07" fill="#808080"/>
<rect x="492.32" y="601.46" width="4.18" height="42.07" fill="#787878"/>
<rect x="496.45" y="601.46" width="4.18" height="42.07" fill="#808080"/>
<rect x="500.58" y="601.46" width="4.18" height="42.07" fill="#d8d8d8"/>
<rect x="504.71" y="601.46" width="4.18" height="42.07" fill="#d0d0d0"/>
<rect x="508.84" y="601.46" width="8.31" height="42.07" fill="#d8d8d8"/>
<rect x="517.10" y="601.46" width="8.31" height="42.07" fill="#989898"/>
<rect x="525.36" y="601.46" width="8.31" height="42.07" fill="#a0a0a0"/>
<rect x="533.63" y="601.46" width="4.18" height="42.07" fill="#b8b8b8"/>
<rect x="537.76" y="601.46" width="8.31" height="42.07" fill="#a0a0a0"/>
<rect x="546.02" y="601.46" width="4.18" height="42.07" fill="#b8b8b8"/>
<rect x="550.15" y="601.46" width="4.18" height="42.07" fill="#787878"/>
<rect x="554.28" y="601.46" width="4.18" height="42.07" fill="#a0a0a0"/>
<rect x="558.41" y="601.46" width="4.18" height="42.07" fill="#a8a8a8"/>
<rect x="562.54" y="601.46" width="4.18" height="42.07" fill="#808080"/>
<rect x="566.67" y="601.46" width="4.18" height="42.07" fill="#a8a8a8"/>
<rect x="570.80" y="601.46" width="4.18" height="42.07" fill="#888888"/>
<rect x="574.93" y="601.46" width="4.18" height="42.07" fill="#808080"/>
<rect x="579.06" y="601.46" width="4.18" height="42.07" fill="#888888"/>
<rect x="583.19" y="601.46" width="4.18" height="42.07" fill="#909090"/>
<rect x="587.32" y="601.46" width="4.18" height="42.07" fill="#707070"/>
<rect x="591.45" y="601.46" width="4.18" height="42.07" fill="#c0c0c0"/>
<rect x="595.58" y="601.46" width="4.18" height="42.07" fill="#585858"/>
<rect x="599.71" y="601.46" width="4.18" height="42.07" fill="#e8e8e8"/>
<rect x="603.85" y="601.46" width="4.18" height="42.07" fill="#e0e0e0"/>
<rect x="607.98" y="601.46" width="4.18" height="42.07" fill="#909090"/>
<rect x="612.11" y="601.46" width="4.18" height="42.07" fill="#989898"/>
<rect x="616.24" y="601.46" width="4.18" height="42.07" fill="#c8c8c8"/>
<rect x="620.37" y="601.46" width="8.31" height="42.07" fill="#d0d0d0"/>
<rect x="628.63" y="601.46" width="4.18" height="42.07" fill="#f0f0f0"/>
<rect x="632.76" y="601.46" width="4.18" height="42.07" fill="#e0e0e0"/>
<rect x="636.89" y="601.46" width="4.18" height="42.07" fill="#b0b0b0"/>
<rect x="641.02" y="601.46" width="4.18" height="42.07" fill="#c8c8c8"/>
<rect x="645.15" y="601.46" width="4.18" height="42.07" fill="#a8a8a8"/>
<rect x="649.28" y="601.46" width="4.18" height="42.07" fill="#d0d0d0"/>
<rect x="653.41" y="601.46" width="4.18" height="42.07" fill="#b0b0b0"/>
<rect x="657.54" y="601.46" width="20.70" height="42.07" fill="#e8e8e8"/>
<rect x="678.20" y="601.46" width="4.18" height="42.07" fill="#f0f0f0"/>
<rect x="682.33" y="601.46" width="4.18" height="42.07" fill="#ffffff"/>
<rect x="686.46" y="601.46" width="8.31" height="42.07" fill="#e8e8e8"/>
<rect x="694.72" y="601.46" width="4.18" height="42.07" fill="#b0b0b0"/>
<rect x="698.85" y="601.46" width="4.18" height="42.07" fill="#a0a0a0"/>
<rect x="702.98" y="601.46" width="4.18" height="42.07" fill="#e0e0e0"/>
<rect x="707.11" y="601.46" width="4.18" height="42.07" fill="#ffffff"/>
<rect x="711.24" y="601.46" width="4.18" height="42.07" fill="#c8c8c8"/>
<rect x="715.37" y="601.46" width="8.31" height="42.07" fill="#c0c0c0"/>
<rect x="723.63" y="601.46" width="4.18" height="42.07" fill="#f0f0f0"/>
<rect x="727.76" y="601.46" width="8.31" height="42.07" fill="#d0d0d0"/>
<rect x="736.02" y="601.46" width="4.18" height="42.07" fill="#c8c8c8"/>
<rect x="740.15" y="601.46" width="12.44" height="42.07" fill="#c0c0c0"/>
<rect x="752.55" y="601.46" width="4.18" height="42.07" fill="#d0d0d0"/>
<rect x="756.68" y="601.46" width="4.18" height="42.07" fill="#c0c0c0"/>
<rect x="760.81" y="601.46" width="4.18" height="42.07" fill="#c8c8c8"/>
<rect x="764.94" y="601.46" width="4.18" height="42.07" fill="#d0d0d0"/>
<rect x="769.07" y="601.46" width="16.57" height="42.07" fill="#e0e0e0"/>
<rect x="785.59" y="601.46" width="16.57" height="42.07" fill="#c0c0c0"/>
<rect x="802.11" y="601.46" width="4.18" height="42.07" fill="#c8c8c8"/>
<rect x="806.24" y="601.46" width="4.18" height="42.07" fill="#e8e8e8"/>
<rect x="810.37" y="601.46" width="4.18" height="42.07" fill="#d0d0d0"/>
<rect x="814.50" y="601.46" width="8.31" height="42.07" fill="#e8e8e8"/>
<rect x="822.77" y="601.46" width="4.18" height="42.07" fill="#e0e0e0"/>
<rect x="826.90" y="601.46" width="4.18" height="42.07" fill="#d0d0d0"/>
<rect x="831.03" y="601.46" width="4.18" height="42.07" fill="#e8e8e8"/>
<rect x="835.16" y="601.46" width="4.18" height="42.07" fill="#d0d0d0"/>
<rect x="839.29" y="601.46" width="4.18" height="42.07" fill="#d8d8d8"/>
<rect x="843.42" y="601.46" width="4.18" height="42.07" fill="#e8e8e8"/>
<rect x="847.55" y="601.46" width="4.18" height="42.07" fill="#b0b0b0"/>
<rect x="851.68" y="601.46" width="4.18" height="42.07" fill="#b8b8b8"/>
<rect x="855.81" y="601.46" width="4.18" height="42.07" fill="#f0f0f0"/>
<rect x="859.94" y="601.46" width="12.44" height="42.07" fill="#e8e8e8"/>
<rect x="872.33" y="601.46" width="8.31" height="42.07" fill="#f0f0f0"/>
<rect x="880.59" y="601.46" width="20.70" height="42.07" fill="#ffffff"/>
<rect x="901.25" y="601.46" width="4.18" height="42.07" fill="#f8f8f8"/>
<rect x="905.38" y="601.46" width="4.18" height="42.07" fill="#f0f0f0"/>
<rect x="909.51" y="601.46" width="4.18" height="42.07" fill="#f8f8f8"/>
<rect x="913.64" y="601.46" width="4.18" height="42.07" fill="#707070"/>
<rect x="917.77" y="601.46" width="4.18" height="42.07" fill="#e0e0e0"/>
<rect x="422.10" y="643.48" width="16.57" height="42.07" fill="#000000"/>
<rect x="438.62" y="643.48" width="4.18" height="42.07" fill="#606060"/>
<rect x="442.75" y="643.48" width="4.18" height="42.07" fill="#686868"/>
<rect x="446.88" y="643.48" width="4.18" height="42.07" fill="#707070"/>
<rect x="451.01" y="643.48" width="4.18" height="42.07" fill="#b0b0b0"/>
<rect x="455.14" y="643.48" width="4.18" height="42.07" fill="#a8a8a8"/>
<rect x="459.28" y="643.48" width="4.18" height="42.07" fill="#a0a0a0"/>
<rect x="463.41" y="643.48" width="4.18" height="42.07" fill="#707070"/>
<rect x="467.54" y="643.48" width="4.18" height="42.07" fill="#808080"/>
<rect x="471.67" y="643.48" width="12.44" height="42.07" fill="#909090"/>
<rect x="484.06" y="643.48" width="4.18" height="42.07" fill="#b8b8b8"/>
<rect x="488.19" y="643.48" width="4.18" height="42.07" fill="#a0a0a0"/>
<rect x="492.32" y="643.48" width="4.18" height="42.07" fill="#c0c0c0"/>
<rect x="496.45" y="643.48" width="8.31" height="42.07" fill="#a0a0a0"/>
<rect x="504.71" y="643.48" width="4.18" height="42.07" fill="#707070"/>
<rect x="508.84" y="643.48" width="4.18" height="42.07" fill="#909090"/>
<rect x="512.97" y="643.48" width="4.18" height="42.07" fill="#b0b0b0"/>
<rect x="517.10" y="643.48" width="4.18" height="42.07" fill="#a0a0a0"/>
<rect x="521.23" y="643.48" width="4.18" height="42.07" fill="#d0d0d0"/>
<rect x="525.36" y="643.48" width="4.18" height="42.07" fill="#f0f0f0"/>
<rect x="529.50" y="643.48" width="8.31" height="42.07" fill="#a0a0a0"/>
<rect x="537.76" y="643.48" width="4.18" height="42.07" fill="#909090"/>
<rect x="541.89" y="643.48" width="4.18" height="42.07" fill="#b8b8b8"/>
<rect x="546.02" y="643.48" width="4.18" height="42.07" fill="#909090"/>
<rect x="550.15" y="643.48" width="4.18" height="42.07" fill="#686868"/>
<rect x="554.28" y="643.48" width="4.18" height="42.07" fill="#787878"/>
<rect x="558.41" y="643.48" width="4.18" height="42.07" fill="#a8a8a8"/>
<rect x="562.54" y="643.48" width="8.31" height="42.07" fill="#b0b0b0"/>
<rect x="570.80" y="643.48" width="4.18" height="42.07" fill="#909090"/>
<rect x="574.93" y="643.48" width="4.18" height="42.07" fill="#d0d0d0"/>
<rect x="579.06" y="643.48" width="4.18" height="42.07" fill="#c8c8c8"/>
<rect x="583.19" y="643.48" width="4.18" height="42.07" fill="#909090"/>
<rect x="587.32" y="643.48" width="4.18" height="42.07" fill="#b0b0b0"/>
<rect x="591.45" y="643.48" width="4.18" height="42.07" fill="#b8b8b8"/>
<rect x="595.58" y="643.48" width="8.31" height="42.07" fill="#c0c0c0"/>
<rect x="603.85" y="643.48" width="4.18" height="42.07" fill="#f0f0f0"/>
<rect x="607.98" y="643.48" width="4.18" height="42.07" fill="#888888"/>
<rect x="612.11" y="643.48" width="4.18" height="42.07" fill="#c0c0c0"/>
<rect x="616.24" y="643.48" width="4.18" height="42.07" fill="#888888"/>
<rect x="620.37" y="643.48" width="4.18" height="42.07" fill="#a0a0a0"/>
<rect x="624.50" y="643.48" width="4.18" height="42.07" fill="#d0d0d0"/>
<rect x="628.63" y="643.48" width="4.18" height="42.07" fill="#c8c8c8"/>
<rect x="632.76" y="643.48" width="4.18" height="42.07" fill="#d0d0d0"/>
<rect x="636.89" y="643.48" width="8.31" height="42.07" fill="#f0f0f0"/>
<rect x="645.15" y="643.48" width="8.31" height="42.07" fill="#e0e0e0"/>
<rect x="653.41" y="643.48" width="4.18" height="42.07" fill="#c8c8c8"/>
<rect x="657.54" y="643.48" width="4.18" height="42.07" fill="#d8d8d8"/>
<rect x="661.67" y="643.48" width="4.18" height="42.07" fill="#b8b8b8"/>
<rect x="665.80" y="643.48" width="24.83" height="42.07" fill="#f0f0f0"/>
<rect x="690.59" y="643.48" width="4.18" height="42.07" fill="#b8b8b8"/>
<rect x="694.72" y="643.48" width="4.18" height="42.07" fill="#d0d0d0"/>
<rect x="698.85" y="643.48" width="4.18" height="42.07" fill="#b8b8b8"/>
<rect x="702.98" y="643.48" width="4.18" height="42.07" fill="#d8d8d8"/>
<rect x="707.11" y="643.48" width="4.18" height="42.07" fill="#888888"/>
<rect x="711.24" y="643.48" width="4.18" height="42.07" fill="#909090"/>
<rect x="715.37" y="643.48" width="8.31" height="42.07" fill="#f0f0f0"/>
<rect x="723.63" y="643.48" width="4.18" height="42.07" fill="#b8b8b8"/>
<rect x="727.76" y="643.48" width="8.31" height="42.07" fill="#c0c0c0"/>
<rect x="736.02" y="643.48" width="4.18" height="42.07" fill="#d0d0d0"/>
<rect x="740.15" y="643.48" width="8.31" height="42.07" fill="#c0c0c0"/>
<rect x="748.42" y="643.48" width="4.18" height="42.07" fill="#d8d8d8"/>
<rect x="752.55" y="643.48" width="8.31" height="42.07" fill="#d0d0d0"/>
<rect x="760.81" y="643.48" width="4.18" height="42.07" fill="#d8d8d8"/>
<rect x="764.94" y="643.48" width="8.31" height="42.07" fill="#d0d0d0"/>
<rect x="773.20" y="643.48" width="4.18" height="42.07" fill="#c8c8c8"/>
<rect x="777.33" y="643.48" width="4.18" height="42.07" fill="#e0e0e0"/>
<rect x="781.46" y="643.48" width="16.57" height="42.07" fill="#d8d8d8"/>
<rect x="797.98" y="643.48" width="8.31" height="42.07" fill="#d0d0d0"/>
<rect x="806.24" y="643.48" width="8.31" height="42.07" fill="#d8d8d8"/>
<rect x="814.50" y="643.48" width="4.18" height="42.07" fill="#a0a0a0"/>
<rect x="818.64" y="643.48" width="8.31" height="42.07" fill="#c0c0c0"/>
<rect x="826.90" y="643.48" width="4.18" height="42.07" fill="#c8c8c8"/>
<rect x="831.03" y="643.48" width="4.18" height="42.07" fill="#d0d0d0"/>
<rect x="835.16" y="643.48" width="4.18" height="42.07" fill="#b8b8b8"/>
<rect x="839.29" y="643.48" width="8.31" height="42.07" fill="#a8a8a8"/>
<rect x="847.55" y="643.48" width="4.18" height="42.07" fill="#ffffff"/>
<rect x="851.68" y="643.48" width="4.18" height="42.07" fill="#f0f0f0"/>
<rect x="855.81" y="643.48" width="4.18" height="42.07" fill="#b8b8b8"/>
<rect x="859.94" y="643.48" width="8.31" height="42.07" fill="#d0d0d0"/>
<rect x="868.20" y="643.48" width="8.31" height="42.07" fill="#e8e8e8"/>
<rect x="876.46" y="643.48" width="4.18" height="42.07" fill="#e0e0e0"/>
<rect x="880.59" y="643.48" width="4.18" height="42.07" fill="#e8e8e8"/>
<rect x="884.72" y="643.48" width="4.18" height="42.07" fill="#909090"/>
<rect x="888.86" y="643.48" width="8.31" height="42.07" fill="#b8b8b8"/>
<rect x="897.12" y="643.48" width="12.44" height="42.07" fill="#f8f8f8"/>
<rect x="909.51" y="643.48" width="4.18" height="42.07" fill="#ffffff"/>
<rect x="913.64" y="643.48" width="8.31" height="42.07" fill="#f0f0f0"/>
<rect x="422.10" y="685.51" width="16.57" height="42.07" fill="#000000"/>
<rect x="438.62" y="685.51" width="4.18" height="42.07" fill="#101010"/>
<rect x="442.75" y="685.51" width="4.18" height="42.07" fill="#606060"/>
<rect x="446.88" y="685.51" width="4.18" height="42.07" fill="#909090"/>
<rect x="451.01" y="685.51" width="16.57" height="42.07" fill="#989898"/>
<rect x="467.54" y="685.51" width="4.18" height="42.07" fill="#b0b0b0"/>
<rect x="471.67" y="685.51" width="4.18" height="42.07" fill="#a8a8a8"/>
<rect x="475.80" y="685.51" width="4.18" height="42.07" fill="#909090"/>
<rect x="479.93" y="685.51" width="4.18" height="42.07" fill="#989898"/>
<rect x="484.06" y="685.51" width="4.18" height="42.07" fill="#d0d0d0"/>
<rect x="488.19" y="685.51" width="4.18" height="42.07" fill="#b8b8b8"/>
<rect x="492.32" y="685.51" width="4.18" height="42.07" fill="#d0d0d0"/>
<rect x="496.45" y="685.51" width="4.18" height="42.07" fill="#c0c0c0"/>
<rect x="500.58" y="685.51" width="8.31" height="42.07" fill="#989898"/>
<rect x="508.84" y="685.51" width="4.18" height="42.07" fill="#a0a0a0"/>
<rect x="512.97" y="685.51" width="4.18" height="42.07" fill="#686868"/>
<rect x="517.10" y="685.51" width="4.18" height="42.07" fill="#b0b0b0"/>
<rect x="521.23" y="685.51" width="4.18" height="42.07" fill="#909090"/>
<rect x="525.36" y="685.51" width="4.18" height="42.07" fill="#f8f8f8"/>
<rect x="529.50" y="685.51" width="8.31" height="42.07" fill="#b8b8b8"/>
<rect x="537.76" y="685.51" width="8.31" height="42.07" fill="#c8c8c8"/>
<rect x="546.02" y="685.51" width="4.18" height="42.07" fill="#c0c0c0"/>
<rect x="550.15" y="685.51" width="4.18" height="42.07" fill="#383838"/>
<rect x="554.28" y="685.51" width="4.18" height="42.07" fill="#404040"/>
<rect x="558.41" y="685.51" width="8.31" height="42.07" fill="#d0d0d0"/>
<rect x="566.67" y="685.51" width="4.18" height="42.07" fill="#b8b8b8"/>
<rect x="570.80" y="685.51" width="4.18" height="42.07" fill="#888888"/>
<rect x="574.93" y="685.51" width="4.18" height="42.07" fill="#989898"/>
<rect x="579.06" y="685.51" width="4.18" height="42.07" fill="#909090"/>
<rect x="583.19" y="685.51" width="4.18" height="42.07" fill="#a0a0a0"/>
<rect x="587.32" y="685.51" width="4.18" height="42.07" fill="#888888"/>
<rect x="591.45" y="685.51" width="8.31" height="42.07" fill="#e0e0e0"/>
<rect x="599.71" y="685.51" width="8.31" height="42.07" fill="#d0d0d0"/>
<rect x="607.98" y="685.51" width="4.18" height="42.07" fill="#606060"/>
<rect x="612.11" y="685.51" width="4.18" height="42.07" fill="#b8b8b8"/>
<rect x="616.24" y="685.51" width="4.18" height="42.07" fill="#e8e8e8"/>
<rect x="620.37" y="685.51" width="4.18" height="42.07" fill="#f8f8f8"/>
<rect x="624.50" y="685.51" width="4.18" height="42.07" fill="#c0c0c0"/>
<rect x="628.63" y="685.51" width="4.18" height="42.07" fill="#d8d8d8"/>
<rect x="632.76" y="685.51" width="4.18" height="42.07" fill="#f0f0f0"/>
<rect x="636.89" y="685.51" width="4.18" height="42.07" fill="#d0d0d0"/>
<rect x="641.02" y="685.51" width="4.18" height="42.07" fill="#f8f8f8"/>
<rect x="645.15" y="685.51" width="4.18" height="42.07" fill="#f0f0f0"/>
<rect x="649.28" y="685.51" width="4.18" height="42.07" fill="#a8a8a8"/>
<rect x="653.41" y="685.51" width="12.44" height="42.07" fill="#b8b8b8"/>
<rect x="665.80" y="685.51" width="12.44" height="42.07" fill="#c0c0c0"/>
<rect x="678.20" y="685.51" width="4.18" height="42.07" fill="#a0a0a0"/>
<rect x="682.33" y="685.51" width="8.31" height="42.07" fill="#e0e0e0"/>
<rect x="690.59" y="685.51" width="8.31" height="42.07" fill="#c0c0c0"/>
<rect x="698.85" y="685.51" width="4.18" height="42.07" fill="#c8c8c8"/>
<rect x="702.98" y="685.51" width="8.31" height="42.07" fill="#e0e0e0"/>
<rect x="711.24" y="685.51" width="4.18" height="42.07" fill="#a0a0a0"/>
<rect x="715.37" y="685.51" width="4.18" height="42.07" fill="#c0c0c0"/>
<rect x="719.50" y="685.51" width="4.18" height="42.07" fill="#c8c8c8"/>
<rect x="723.63" y="685.51" width="12.44" height="42.07" fill="#d8d8d8"/>
<rect x="736.02" y="685.51" width="4.18" height="42.07" fill="#e0e0e0"/>
<rect x="740.15" y="685.51" width="12.44" height="42.07" fill="#c8c8c8"/>
<rect x="752.55" y="685.51" width="4.18" height="42.07" fill="#e8e8e8"/>
<rect x="756.68" y="685.51" width="20.70" height="42.07" fill="#d8d8d8"/>
<rect x="777.33" y="685.51" width="4.18" height="42.07" fill="#e0e0e0"/>
<rect x="781.46" y="685.51" width="12.44" height="42.07" fill="#e8e8e8"/>
<rect x="793.85" y="685.51" width="12.44" height="42.07" fill="#d0d0d0"/>
<rect x="806.24" y="685.51" width="8.31" height="42.07" fill="#a8a8a8"/>
<rect x="814.50" y="685.51" width="4.18" height="42.07" fill="#d0d0d0"/>
<rect x="818.64" y="685.51" width="4.18" height="42.07" fill="#e8e8e8"/>
<rect x="822.77" y="685.51" width="4.18" height="42.07" fill="#b8b8b8"/>
<rect x="826.90" y="685.51" width="4.18" height="42.07" fill="#e8e8e8"/>
<rect x="831.03" y="685.51" width="4.18" height="42.07" fill="#f0f0f0"/>
<rect x="835.16" y="685.51" width="4.18" height="42.07" fill="#c0c0c0"/>
<rect x="839.29" y="685.51" width="8.31" height="42.07" fill="#d8d8d8"/>
<rect x="847.55" y="685.51" width="12.44" height="42.07" fill="#f0f0f0"/>
<rect x="859.94" y="685.51" width="4.18" height="42.07" fill="#d8d8d8"/>
<rect x="864.07" y="685.51" width="8.31" height="42.07" fill="#c0c0c0"/>
<rect x="872.33" y="685.51" width="4.18" height="42.07" fill="#c8c8c8"/>
<rect x="876.46" y="685.51" width="4.18" height="42.07" fill="#d8d8d8"/>
<rect x="880.59" y="685.51" width="4.18" height="42.07" fill="#e0e0e0"/>
<rect x="884.72" y="685.51" width="4.18" height="42.07" fill="#ffffff"/>
<rect x="888.86" y="685.51" width="4.18" height="42.07" fill="#a8a8a8"/>
<rect x="892.99" y="685.51" width="4.18" height="42.07" fill="#ffffff"/>
<rect x="897.12" y="685.51" width="4.18" height="42.07" fill="#e0e0e0"/>
<rect x="901.25" y="685.51" width="4.18" height="42.07" fill="#f8f8f8"/>
<rect x="905.38" y="685.51" width="4.18" height="42.07" fill="#b0b0b0"/>
<rect x="909.51" y="685.51" width="4.18" height="42.07" fill="#b8b8b8"/>
<rect x="913.64" y="685.51" width="4.18" height="42.07" fill="#f8f8f8"/>
<rect x="917.77" y="685.51" width="4.18" height="42.07" fill="#f0f0f0"/>
<rect x="422.10" y="727.53" width="12.44" height="42.07" fill="#000000"/>
<rect x="434.49" y="727.53" width="8.31" height="42.07" fill="#181818"/>
<rect x="442.75" y="727.53" width="4.18" height="42.07" fill="#383838"/>
<rect x="446.88" y="727.53" width="4.18" height="42.07" fill="#909090"/>
<rect x="451.01" y="727.53" width="4.18" height="42.07" fill="#303030"/>
<rect x="455.14" y="727.53" width="4.18" height="42.07" fill="#383838"/>
<rect x="459.28" y="727.53" width="4.18" height="42.07" fill="#484848"/>
<rect x="463.41" y="727.53" width="4.18" height="42.07" fill="#d8d8d8"/>
<rect x="467.54" y="727.53" width="4.18" height="42.07" fill="#b0b0b0"/>
<rect x="471.67" y="727.53" width="4.18" height="42.07" fill="#b8b8b8"/>
<rect x="475.80" y="727.53" width="4.18" height="42.07" fill="#e8e8e8"/>
<rect x="479.93" y="727.53" width="4.18" height="42.07" fill="#c8c8c8"/>
<rect x="484.06" y="727.53" width="4.18" height="42.07" fill="#e0e0e0"/>
<rect x="488.19" y="727.53" width="8.31" height="42.07" fill="#e8e8e8"/>
<rect x="496.45" y="727.53" width="4.18" height="42.07" fill="#f0f0f0"/>
<rect x="500.58" y="727.53" width="4.18" height="42.07" fill="#e0e0e0"/>
<rect x="504.71" y="727.53" width="4.18" height="42.07" fill="#e8e8e8"/>
<rect x="508.84" y="727.53" width="4.18" height="42.07" fill="#f0f0f0"/>
<rect x="512.97" y="727.53" width="12.44" height="42.07" fill="#e0e0e0"/>
<rect x="525.36" y="727.53" width="8.31" height="42.07" fill="#c0c0c0"/>
<rect x="533.63" y="727.53" width="4.18" height="42.07" fill="#d0d0d0"/>
<rect x="537.76" y="727.53" width="8.31" height="42.07" fill="#e0e0e0"/>
<rect x="546.02" y="727.53" width="12.44" height="42.07" fill="#e8e8e8"/>
<rect x="558.41" y="727.53" width="4.18" height="42.07" fill="#505050"/>
<rect x="562.54" y="727.53" width="4.18" height="42.07" fill="#a0a0a0"/>
<rect x="566.67" y="727.53" width="4.18" height="42.07" fill="#a8a8a8"/>
<rect x="570.80" y="727.53" width="4.18" height="42.07" fill="#989898"/>
<rect x="574.93" y="727.53" width="4.18" height="42.07" fill="#909090"/>
<rect x="579.06" y="727.53" width="4.18" height="42.07" fill="#a8a8a8"/>
<rect x="583.19" y="727.53" width="4.18" height="42.07" fill="#f0f0f0"/>
<rect x="587.32" y="727.53" width="4.18" height="42.07" fill="#c0c0c0"/>
<rect x="591.45" y="727.53" width="4.18" height="42.07" fill="#c8c8c8"/>
<rect x="595.58" y="727.53" width="4.18" height="42.07" fill="#f8f8f8"/>
<rect x="599.71" y="727.53" width="8.31" height="42.07" fill="#e8e8e8"/>
<rect x="607.98" y="727.53" width="4.18" height="42.07" fill="#b0b0b0"/>
<rect x="612.11" y="727.53" width="4.18" height="42.07" fill="#909090"/>
<rect x="616.24" y="727.53" width="4.18" height="42.07" fill="#e8e8e8"/>
<rect x="620.37" y="727.53" width="4.18" height="42.07" fill="#f8f8f8"/>
<rect x="624.50" y="727.53" width="8.31" height="42.07" fill="#f0f0f0"/>
<rect x="632.76" y="727.53" width="4.18" height="42.07" fill="#e0e0e0"/>
<rect x="636.89" y="727.53" width="4.18" height="42.07" fill="#f0f0f0"/>
<rect x="641.02" y="727.53" width="8.31" height="42.07" fill="#b0b0b0"/>
<rect x="649.28" y="727.53" width="4.18" height="42.07" fill="#505050"/>
<rect x="653.41" y="727.53" width="4.18" height="42.07" fill="#686868"/>
<rect x="657.54" y="727.53" width="4.18" height="42.07" fill="#c0c0c0"/>
<rect x="661.67" y="727.53" width="4.18" height="42.07" fill="#888888"/>
<rect x="665.80" y="727.53" width="4.18" height="42.07" fill="#989898"/>
<rect x="669.93" y="727.53" width="4.18" height="42.07" fill="#a0a0a0"/>
<rect x="674.07" y="727.53" width="4.18" height="42.07" fill="#b8b8b8"/>
<rect x="678.20" y="727.53" width="12.44" height="42.07" fill="#909090"/>
<rect x="690.59" y="727.53" width="4.18" height="42.07" fill="#e8e8e8"/>
<rect x="694.72" y="727.53" width="16.57" height="42.07" fill="#f0f0f0"/>
<rect x="711.24" y="727.53" width="8.31" height="42.07" fill="#e8e8e8"/>
<rect x="719.50" y="727.53" width="8.31" height="42.07" fill="#f0f0f0"/>
<rect x="727.76" y="727.53" width="4.18" height="42.07" fill="#c0c0c0"/>
<rect x="731.89" y="727.53" width="4.18" height="42.07" fill="#d8d8d8"/>
<rect x="736.02" y="727.53" width="4.18" height="42.07" fill="#e0e0e0"/>
<rect x="740.15" y="727.53" width="4.18" height="42.07" fill="#c8c8c8"/>
<rect x="744.29" y="727.53" width="4.18" height="42.07" fill="#d0d0d0"/>
<rect x="748.42" y="727.53" width="4.18" height="42.07" fill="#c8c8c8"/>
<rect x="752.55" y="727.53" width="4.18" height="42.07" fill="#d0d0d0"/>
<rect x="756.68" y="727.53" width="4.18" height="42.07" fill="#a8a8a8"/>
<rect x="760.81" y="727.53" width="4.18" height="42.07" fill="#d0d0d0"/>
<rect x="764.94" y="727.53" width="4.18" height="42.07" fill="#d8d8d8"/>
<rect x="769.07" y="727.53" width="4.18" height="42.07" fill="#e0e0e0"/>
<rect x="773.20" y="727.53" width="4.18" height="42.07" fill="#d8d8d8"/>
<rect x="777.33" y="727.53" width="8.31" height="42.07" fill="#c8c8c8"/>
<rect x="785.59" y="727.53" width="8.31" height="42.07" fill="#d0d0d0"/>
<rect x="793.85" y="727.53" width="12.44" height="42.07" fill="#c8c8c8"/>
<rect x="806.24" y="727.53" width="20.70" height="42.07" fill="#e0e0e0"/>
<rect x="826.90" y="727.53" width="4.18" height="42.07" fill="#c8c8c8"/>
<rect x="831.03" y="727.53" width="4.18" height="42.07" fill="#e8e8e8"/>
<rect x="835.16" y="727.53" width="16.57" height="42.07" fill="#e0e0e0"/>
<rect x="851.68" y="727.53" width="4.18" height="42.07" fill="#e8e8e8"/>
<rect x="855.81" y="727.53" width="4.18" height="42.07" fill="#ffffff"/>
<rect x="859.94" y="727.53" width="4.18" height="42.07" fill="#d8d8d8"/>
<rect x="864.07" y="727.53" width="4.18" height="42.07" fill="#ffffff"/>
<rect x="868.20" y="727.53" width="8.31" height="42.07" fill="#e8e8e8"/>
<rect x="876.46" y="727.53" width="4.18" height="42.07" fill="#b0b0b0"/>
<rect x="880.59" y="727.53" width="41.36" height="42.07" fill="#ffffff"/>
<rect x="422.10" y="769.55" width="16.57" height="42.07" fill="#000000"/>
<rect x="438.62" y="769.55" width="4.18" height="42.07" fill="#080808"/>
<rect x="442.75" y="769.55" width="4.18" height="42.07" fill="#404040"/>
<rect x="446.88" y="769.55" width="4.18" height="42.07" fill="#808080"/>
<rect x="451.01" y="769.55" width="4.18" height="42.07" fill="#606060"/>
<rect x="455.14" y="769.55" width="4.18" height="42.07" fill="#707070"/>
<rect x="459.28" y="769.55" width="4.18" height="42.07" fill="#ffffff"/>
<rect x="463.41" y="769.55" width="4.18" height="42.07" fill="#989898"/>
<rect x="467.54" y="769.55" width="4.18" height="42.07" fill="#909090"/>
<rect x="471.67" y="769.55" width="4.18" height="42.07" fill="#989898"/>
<rect x="475.80" y="769.55" width="4.18" height="42.07" fill="#e8e8e8"/>
<rect x="479.93" y="769.55" width="4.18" height="42.07" fill="#f0f0f0"/>
<rect x="484.06" y="769.55" width="8.31" height="42.07" fill="#c8c8c8"/>
<rect x="492.32" y="769.55" width="4.18" height="42.07" fill="#d0d0d0"/>
<rect x="496.45" y="769.55" width="4.18" height="42.07" fill="#e0e0e0"/>
<rect x="500.58" y="769.55" width="4.18" height="42.07" fill="#d0d0d0"/>
<rect x="504.71" y="769.55" width="8.31" height="42.07" fill="#b0b0b0"/>
<rect x="512.97" y="769.55" width="4.18" height="42.07" fill="#e0e0e0"/>
<rect x="517.10" y="769.55" width="8.31" height="42.07" fill="#f0f0f0"/>
<rect x="525.36" y="769.55" width="4.18" height="42.07" fill="#d8d8d8"/>
<rect x="529.50" y="769.55" width="4.18" height="42.07" fill="#c8c8c8"/>
<rect x="533.63" y="769.55" width="4.18" height="42.07" fill="#d8d8d8"/>
<rect x="537.76" y="769.55" width="8.31" height="42.07" fill="#e0e0e0"/>
<rect x="546.02" y="769.55" width="4.18" height="42.07" fill="#f0f0f0"/>
<rect x="550.15" y="769.55" width="4.18" height="42.07" fill="#c0c0c0"/>
<rect x="554.28" y="769.55" width="4.18" height="42.07" fill="#c8c8c8"/>
<rect x="558.41" y="769.55" width="4.18" height="42.07" fill="#484848"/>
<rect x="562.54" y="769.55" width="4.18" height="42.07" fill="#989898"/>
<rect x="566.67" y="769.55" width="4.18" height="42.07" fill="#a0a0a0"/>
<rect x="570.80" y="769.55" width="4.18" height="42.07" fill="#909090"/>
<rect x="574.93" y="769.55" width="12.44" height="42.07" fill="#a0a0a0"/>
<rect x="587.32" y="769.55" width="4.18" height="42.07" fill="#f0f0f0"/>
<rect x="591.45" y="769.55" width="4.18" height="42.07" fill="#686868"/>
<rect x="595.58" y="769.55" width="4.18" height="42.07" fill="#d0d0d0"/>
<rect x="599.71" y="769.55" width="16.57" height="42.07" fill="#f0f0f0"/>
<rect x="616.24" y="769.55" width="4.18" height="42.07" fill="#e8e8e8"/>
<rect x="620.37" y="769.55" width="4.18" height="42.07" fill="#f0f0f0"/>
<rect x="624.50" y="769.55" width="4.18" height="42.07" fill="#e0e0e0"/>
<rect x="628.63" y="769.55" width="12.44" height="42.07" fill="#f0f0f0"/>
<rect x="641.02" y="769.55" width="4.18" height="42.07" fill="#e8e8e8"/>
<rect x="645.15" y="769.55" width="4.18" height="42.07" fill="#a0a0a0"/>
<rect x="649.28" y="769.55" width="4.18" height="42.07" fill="#989898"/>
<rect x="653.41" y="769.55" width="4.18" height="42.07" fill="#c0c0c0"/>
<rect x="657.54" y="769.55" width="4.18" height="42.07" fill="#909090"/>
<rect x="661.67" y="769.55" width="4.18" height="42.07" fill="#787878"/>
<rect x="665.80" y="769.55" width="8.31" height="42.07" fill="#a8a8a8"/>
<rect x="674.07" y="769.55" width="4.18" height="42.07" fill="#b8b8b8"/>
<rect x="678.20" y="769.55" width="4.18" height="42.07" fill="#a8a8a8"/>
<rect x="682.33" y="769.55" width="4.18" height="42.07" fill="#888888"/>
<rect x="686.46" y="769.55" width="4.18" height="42.07" fill="#909090"/>
<rect x="690.59" y="769.55" width="4.18" height="42.07" fill="#d0d0d0"/>
<rect x="694.72" y="769.55" width="4.18" height="42.07" fill="#f0f0f0"/>
<rect x="698.85" y="769.55" width="4.18" height="42.07" fill="#e8e8e8"/>
<rect x="702.98" y="769.55" width="8.31" height="42.07" fill="#f0f0f0"/>
<rect x="711.24" y="769.55" width="4.18" height="42.07" fill="#b0b0b0"/>
<rect x="715.37" y="769.55" width="4.18" height="42.07" fill="#e8e8e8"/>
<rect x="719.50" y="769.55" width="4.18" height="42.07" fill="#f0f0f0"/>
<rect x="723.63" y="769.55" width="4.18" height="42.07" fill="#e8e8e8"/>
<rect x="727.76" y="769.55" width="33.09" height="42.07" fill="#d0d0d0"/>
<rect x="760.81" y="769.55" width="8.31" height="42.07" fill="#c8c8c8"/>
<rect x="769.07" y="769.55" width="4.18" height="42.07" fill="#d8d8d8"/>
<rect x="773.20" y="769.55" width="4.18" height="42.07" fill="#d0d0d0"/>
<rect x="777.33" y="769.55" width="8.31" height="42.07" fill="#d8d8d8"/>
<rect x="785.59" y="769.55" width="12.44" height="42.07" fill="#c8c8c8"/>
<rect x="797.98" y="769.55" width="4.18" height="42.07" fill="#c0c0c0"/>
<rect x="802.11" y="769.55" width="4.18" height="42.07" fill="#e8e8e8"/>
<rect x="806.24" y="769.55" width="4.18" height="42.07" fill="#f0f0f0"/>
<rect x="810.37" y="769.55" width="4.18" height="42.07" fill="#f8f8f8"/>
<rect x="814.50" y="769.55" width="4.18" height="42.07" fill="#e8e8e8"/>
<rect x="818.64" y="769.55" width="4.18" height="42.07" fill="#a8a8a8"/>
<rect x="822.77" y="769.55" width="16.57" height="42.07" fill="#f0f0f0"/>
<rect x="839.29" y="769.55" width="8.31" height="42.07" fill="#e8e8e8"/>
<rect x="847.55" y="769.55" width="4.18" height="42.07" fill="#d0d0d0"/>
<rect x="851.68" y="769.55" width="8.31" height="42.07" fill="#e8e8e8"/>
<rect x="859.94" y="769.55" width="4.18" height="42.07" fill="#c8c8c8"/>
<rect x="864.07" y="769.55" width="8.31" height="42.07" fill="#d8d8d8"/>
<rect x="872.33" y="769.55" width="4.18" height="42.07" fill="#f0f0f0"/>
<rect x="876.46" y="769.55" width="4.18" height="42.07" fill="#e0e0e0"/>
<rect x="880.59" y="769.55" width="4.18" height="42.07" fill="#f0f0f0"/>
<rect x="884.72" y="769.55" width="20.70" height="42.07" fill="#ffffff"/>
<rect x="905.38" y="769.55" width="4.18" height="42.07" fill="#e8e8e8"/>
<rect x="909.51" y="769.55" width="12.44" height="42.07" fill="#ffffff"/>
<rect x="422.10" y="811.58" width="8.31" height="42.07" fill="#000000"/>
<rect x="430.36" y="811.58" width="4.18" height="42.07" fill="#505050"/>
<rect x="434.49" y="811.58" width="4.18" height="42.07" fill="#686868"/>
<rect x="438.62" y="811.58" width="4.18" height="42.07" fill="#484848"/>
<rect x="442.75" y="811.58" width="8.31" height="42.07" fill="#707070"/>
<rect x="451.01" y="811.58" width="4.18" height="42.07" fill="#d0d0d0"/>
<rect x="455.14" y="811.58" width="4.18" height="42.07" fill="#e0e0e0"/>
<rect x="459.28" y="811.58" width="4.18" height="42.07" fill="#707070"/>
<rect x="463.41" y="811.58" width="4.18" height="42.07" fill="#d0d0d0"/>
<rect x="467.54" y="811.58" width="4.18" height="42.07" fill="#c8c8c8"/>
<rect x="471.67" y="811.58" width="4.18" height="42.07" fill="#ffffff"/>
<rect x="475.80" y="811.58" width="12.44" height="42.07" fill="#e0e0e0"/>
<rect x="488.19" y="811.58" width="8.31" height="42.07" fill="#d0d0d0"/>
<rect x="496.45" y="811.58" width="4.18" height="42.07" fill="#e0e0e0"/>
<rect x="500.58" y="811.58" width="4.18" height="42.07" fill="#383838"/>
<rect x="504.71" y="811.58" width="4.18" height="42.07" fill="#e0e0e0"/>
<rect x="508.84" y="811.58" width="4.18" height="42.07" fill="#d0d0d0"/>
<rect x="512.97" y="811.58" width="4.18" height="42.07" fill="#e0e0e0"/>
<rect x="517.10" y="811.58" width="4.18" height="42.07" fill="#808080"/>
<rect x="521.23" y="811.58" width="4.18" height="42.07" fill="#f0f0f0"/>
<rect x="525.36" y="811.58" width="4.18" height="42.07" fill="#909090"/>
<rect x="529.50" y="811.58" width="4.18" height="42.07" fill="#e8e8e8"/>
<rect x="533.63" y="811.58" width="4.18" height="42.07" fill="#e0e0e0"/>
<rect x="537.76" y="811.58" width="12.44" height="42.07" fill="#e8e8e8"/>
<rect x="550.15" y="811.58" width="4.18" height="42.07" fill="#e0e0e0"/>
<rect x="554.28" y="811.58" width="4.18" height="42.07" fill="#d8d8d8"/>
<rect x="558.41" y="811.58" width="4.18" height="42.07" fill="#e0e0e0"/>
<rect x="562.54" y="811.58" width="4.18" height="42.07" fill="#ffffff"/>
<rect x="566.67" y="811.58" width="4.18" height="42.07" fill="#909090"/>
<rect x="570.80" y="811.58" width="8.31" height="42.07" fill="#e8e8e8"/>
<rect x="579.06" y="811.58" width="8.31" height="42.07" fill="#ffffff"/>
<rect x="587.32" y="811.58" width="4.18" height="42.07" fill="#f0f0f0"/>
<rect x="591.45" y="811.58" width="20.70" height="42.07" fill="#e8e8e8"/>
<rect x="612.11" y="811.58" width="4.18" height="42.07" fill="#ffffff"/>
<rect x="616.24" y="811.58" width="4.18" height="42.07" fill="#e0e0e0"/>
<rect x="620.37" y="811.58" width="4.18" height="42.07" fill="#e8e8e8"/>
<rect x="624.50" y="811.58" width="4.18" height="42.07" fill="#e0e0e0"/>
<rect x="628.63" y="811.58" width="8.31" height="42.07" fill="#d8d8d8"/>
<rect x="636.89" y="811.58" width="4.18" height="42.07" fill="#e0e0e0"/>
<rect x="641.02" y="811.58" width="4.18" height="42.07" fill="#ffffff"/>
<rect x="645.15" y="811.58" width="4.18" height="42.07" fill="#606060"/>
<rect x="649.28" y="811.58" width="12.44" height="42.07" fill="#e8e8e8"/>
<rect x="661.67" y="811.58" width="8.31" height="42.07" fill="#ffffff"/>
<rect x="669.93" y="811.58" width="4.18" height="42.07" fill="#d8d8d8"/>
<rect x="674.07" y="811.58" width="4.18" height="42.07" fill="#ffffff"/>
<rect x="678.20" y="811.58" width="4.18" height="42.07" fill="#e0e0e0"/>
<rect x="682.33" y="811.58" width="8.31" height="42.07" fill="#e8e8e8"/>
<rect x="690.59" y="811.58" width="4.18" height="42.07" fill="#d8d8d8"/>
<rect x="694.72" y="811.58" width="4.18" height="42.07" fill="#f0f0f0"/>
<rect x="698.85" y="811.58" width="8.31" height="42.07" fill="#ffffff"/>
<rect x="707.11" y="811.58" width="8.31" height="42.07" fill="#f0f0f0"/>
<rect x="715.37" y="811.58" width="4.18" height="42.07" fill="#d0d0d0"/>
<rect x="719.50" y="811.58" width="4.18" height="42.07" fill="#d8d8d8"/>
<rect x="723.63" y="811.58" width="4.18" height="42.07" fill="#ffffff"/>
<rect x="727.76" y="811.58" width="4.18" height="42.07" fill="#e0e0e0"/>
<rect x="731.89" y="811.58" width="4.18" height="42.07" fill="#b8b8b8"/>
<rect x="736.02" y="811.58" width="4.18" height="42.07" fill="#d0d0d0"/>
<rect x="740.15" y="811.58" width="4.18" height="42.07" fill="#e8e8e8"/>
<rect x="744.29" y="811.58" width="12.44" height="42.07" fill="#d0d0d0"/>
<rect x="756.68" y="811.58" width="4.18" height="42.07" fill="#c0c0c0"/>
<rect x="760.81" y="811.58" width="4.18" height="42.07" fill="#c8c8c8"/>
<rect x="764.94" y="811.58" width="8.31" height="42.07" fill="#c0c0c0"/>
<rect x="773.20" y="811.58" width="20.70" height="42.07" fill="#d8d8d8"/>
<rect x="793.85" y="811.58" width="12.44" height="42.07" fill="#ffffff"/>
<rect x="806.24" y="811.58" width="8.31" height="42.07" fill="#e8e8e8"/>
<rect x="814.50" y="811.58" width="4.18" height="42.07" fill="#b8b8b8"/>
<rect x="818.64" y="811.58" width="8.31" height="42.07" fill="#d8d8d8"/>
<rect x="826.90" y="811.58" width="4.18" height="42.07" fill="#d0d0d0"/>
<rect x="831.03" y="811.58" width="4.18" height="42.07" fill="#f0f0f0"/>
<rect x="835.16" y="811.58" width="4.18" height="42.07" fill="#ffffff"/>
<rect x="839.29" y="811.58" width="8.31" height="42.07" fill="#e8e8e8"/>
<rect x="847.55" y="811.58" width="12.44" height="42.07" fill="#ffffff"/>
<rect x="859.94" y="811.58" width="4.18" height="42.07" fill="#d8d8d8"/>
<rect x="864.07" y="811.58" width="4.18" height="42.07" fill="#d0d0d0"/>
<rect x="868.20" y="811.58" width="4.18" height="42.07" fill="#e0e0e0"/>
<rect x="872.33" y="811.58" width="4.18" height="42.07" fill="#e8e8e8"/>
<rect x="876.46" y="811.58" width="4.18" height="42.07" fill="#ffffff"/>
<rect x="880.59" y="811.58" width="4.18" height="42.07" fill="#d8d8d8"/>
<rect x="884.72" y="811.58" width="24.83" height="42.07" fill="#ffffff"/>
<rect x="909.51" y="811.58" width="4.18" height="42.07" fill="#f0f0f0"/>
<rect x="913.64" y="811.58" width="4.18" height="42.07" fill="#ffffff"/>
<rect x="917.77" y="811.58" width="4.18" height="42.07" fill="#e8e8e8"/>
</g>
<g id="col-dendrogram" fill="none" stroke="#000" stroke-width="2.2" stroke-linejoin="miter" stroke-linecap="butt">
<path d="M424.2,137.4V130.2H428.3V137.4"/>
<path d="M436.6,137.4V128.6H440.7V137.4"/>
<path d="M432.4,137.4V118.8H438.6V128.6"/>
<path d="M426.2,130.2V99.3H435.5V118.8"/>
<path d="M430.9,99.3V73.6H631.7V117.8"/>
<path d="M476.1,125V117.8H785.8V126.4"/>
<path d="M446.7,132.1V125H469"/>
<path d="M444.8,137.4V132.1H448.9V137.4"/>
<path d="M457,131V128.7H469"/>
<path d="M785,126.4H903.3V129.8"/>
<path d="M890.5,133V129.8H914.6V133"/>
</g>
<g id="col-dendrogram-dense" fill="#000" stroke="none">
<rect x="468.00" y="124.00" width="20.00" height="7.00" fill="#000"/>
<rect x="488.00" y="124.00" width="18.20" height="3.90" fill="#000"/>
<rect x="506.20" y="126.20" width="37.30" height="2.70" fill="#000"/>
<rect x="543.50" y="127.80" width="19.50" height="1.90" fill="#000"/>
<rect x="563.00" y="128.70" width="37.00" height="1.70" fill="#000"/>
<rect x="600.00" y="128.90" width="10.00" height="4.10" fill="#000"/>
<rect x="610.00" y="128.20" width="18.00" height="4.80" fill="#000"/>
<rect x="628.00" y="126.50" width="39.00" height="6.50" fill="#000"/>
<rect x="667.00" y="125.60" width="119.90" height="7.40" fill="#000"/>
<rect x="786.90" y="129.60" width="51.10" height="3.40" fill="#000"/>
<rect x="838.00" y="131.20" width="67.00" height="2.00" fill="#000"/>
<rect x="451.93" y="131.20" width="2.30" height="6.20" fill="#000"/>
<rect x="456.06" y="131.20" width="2.30" height="6.20" fill="#000"/>
<rect x="460.19" y="131.20" width="2.30" height="6.20" fill="#000"/>
<rect x="464.32" y="131.20" width="2.30" height="6.20" fill="#000"/>
<rect x="468.45" y="131.20" width="2.30" height="6.20" fill="#000"/>
<rect x="472.58" y="131.20" width="2.30" height="6.20" fill="#000"/>
<rect x="476.71" y="131.20" width="2.30" height="6.20" fill="#000"/>
<rect x="480.84" y="131.20" width="2.30" height="6.20" fill="#000"/>
<rect x="484.97" y="131.20" width="2.30" height="6.20" fill="#000"/>
<rect x="489.10" y="131.20" width="2.30" height="6.20" fill="#000"/>
<rect x="493.24" y="131.20" width="2.30" height="6.20" fill="#000"/>
<rect x="497.37" y="131.20" width="2.30" height="6.20" fill="#000"/>
<rect x="501.50" y="131.20" width="2.30" height="6.20" fill="#000"/>
<rect x="505.63" y="131.20" width="2.30" height="6.20" fill="#000"/>
<rect x="509.76" y="131.20" width="2.30" height="6.20" fill="#000"/>
<rect x="513.89" y="131.20" width="2.30" height="6.20" fill="#000"/>
<rect x="518.02" y="131.20" width="2.30" height="6.20" fill="#000"/>
<rect x="522.15" y="131.20" width="2.30" height="6.20" fill="#000"/>
<rect x="526.28" y="131.20" width="2.30" height="6.20" fill="#000"/>
<rect x="530.41" y="131.20" width="2.30" height="6.20" fill="#000"/>
<rect x="534.54" y="131.20" width="2.30" height="6.20" fill="#000"/>
<rect x="538.67" y="131.20" width="2.30" height="6.20" fill="#000"/>
<rect x="542.80" y="131.20" width="2.30" height="6.20" fill="#000"/>
<rect x="546.93" y="131.20" width="2.30" height="6.20" fill="#000"/>
<rect x="551.06" y="131.20" width="2.30" height="6.20" fill="#000"/>
<rect x="555.19" y="131.20" width="2.30" height="6.20" fill="#000"/>
<rect x="559.32" y="131.20" width="2.30" height="6.20" fill="#000"/>
<rect x="563.45" y="131.20" width="2.30" height="6.20" fill="#000"/>
<rect x="567.59" y="131.20" width="2.30" height="6.20" fill="#000"/>
<rect x="571.72" y="131.20" width="2.30" height="6.20" fill="#000"/>
<rect x="575.85" y="131.20" width="2.30" height="6.20" fill="#000"/>
<rect x="579.98" y="131.20" width="2.30" height="6.20" fill="#000"/>
<rect x="584.11" y="131.20" width="2.30" height="6.20" fill="#000"/>
<rect x="588.24" y="131.20" width="2.30" height="6.20" fill="#000"/>
<rect x="592.37" y="131.20" width="2.30" height="6.20" fill="#000"/>
<rect x="596.50" y="131.20" width="2.30" height="6.20" fill="#000"/>
<rect x="600.63" y="131.20" width="2.30" height="6.20" fill="#000"/>
<rect x="604.76" y="131.20" width="2.30" height="6.20" fill="#000"/>
<rect x="608.89" y="131.20" width="2.30" height="6.20" fill="#000"/>
<rect x="613.02" y="131.20" width="2.30" height="6.20" fill="#000"/>
<rect x="617.15" y="131.20" width="2.30" height="6.20" fill="#000"/>
<rect x="621.28" y="131.20" width="2.30" height="6.20" fill="#000"/>
<rect x="625.41" y="131.20" width="2.30" height="6.20" fill="#000"/>
<rect x="629.54" y="131.20" width="2.30" height="6.20" fill="#000"/>
<rect x="633.67" y="131.20" width="2.30" height="6.20" fill="#000"/>
<rect x="637.81" y="131.20" width="2.30" height="6.20" fill="#000"/>
<rect x="641.94" y="131.20" width="2.30" height="6.20" fill="#000"/>
<rect x="646.07" y="131.20" width="2.30" height="6.20" fill="#000"/>
<rect x="650.20" y="131.20" width="2.30" height="6.20" fill="#000"/>
<rect x="654.33" y="131.20" width="2.30" height="6.20" fill="#000"/>
<rect x="658.46" y="131.20" width="2.30" height="6.20" fill="#000"/>
<rect x="662.59" y="131.20" width="2.30" height="6.20" fill="#000"/>
<rect x="666.72" y="131.20" width="2.30" height="6.20" fill="#000"/>
<rect x="670.85" y="131.20" width="2.30" height="6.20" fill="#000"/>
<rect x="674.98" y="131.20" width="2.30" height="6.20" fill="#000"/>
<rect x="679.11" y="131.20" width="2.30" height="6.20" fill="#000"/>
<rect x="683.24" y="131.20" width="2.30" height="6.20" fill="#000"/>
<rect x="687.37" y="131.20" width="2.30" height="6.20" fill="#000"/>
<rect x="691.50" y="131.20" width="2.30" height="6.20" fill="#000"/>
<rect x="695.63" y="131.20" width="2.30" height="6.20" fill="#000"/>
<rect x="699.76" y="131.20" width="2.30" height="6.20" fill="#000"/>
<rect x="703.89" y="131.20" width="2.30" height="6.20" fill="#000"/>
<rect x="708.03" y="131.20" width="2.30" height="6.20" fill="#000"/>
<rect x="712.16" y="131.20" width="2.30" height="6.20" fill="#000"/>
<rect x="716.29" y="131.20" width="2.30" height="6.20" fill="#000"/>
<rect x="720.42" y="131.20" width="2.30" height="6.20" fill="#000"/>
<rect x="724.55" y="131.20" width="2.30" height="6.20" fill="#000"/>
<rect x="728.68" y="131.20" width="2.30" height="6.20" fill="#000"/>
<rect x="732.81" y="131.20" width="2.30" height="6.20" fill="#000"/>
<rect x="736.94" y="131.20" width="2.30" height="6.20" fill="#000"/>
<rect x="741.07" y="131.20" width="2.30" height="6.20" fill="#000"/>
<rect x="745.20" y="131.20" width="2.30" height="6.20" fill="#000"/>
<rect x="749.33" y="131.20" width="2.30" height="6.20" fill="#000"/>
<rect x="753.46" y="131.20" width="2.30" height="6.20" fill="#000"/>
<rect x="757.59" y="131.20" width="2.30" height="6.20" fill="#000"/>
<rect x="761.72" y="131.20" width="2.30" height="6.20" fill="#000"/>
<rect x="765.85" y="131.20" width="2.30" height="6.20" fill="#000"/>
<rect x="769.98" y="131.20" width="2.30" height="6.20" fill="#000"/>
<rect x="774.11" y="131.20" width="2.30" height="6.20" fill="#000"/>
<rect x="778.25" y="131.20" width="2.30" height="6.20" fill="#000"/>
<rect x="782.38" y="131.20" width="2.30" height="6.20" fill="#000"/>
<rect x="786.51" y="131.20" width="2.30" height="6.20" fill="#000"/>
<rect x="790.64" y="131.20" width="2.30" height="6.20" fill="#000"/>
<rect x="794.77" y="131.20" width="2.30" height="6.20" fill="#000"/>
<rect x="798.90" y="131.20" width="2.30" height="6.20" fill="#000"/>
<rect x="803.03" y="131.20" width="2.30" height="6.20" fill="#000"/>
<rect x="807.16" y="131.20" width="2.30" height="6.20" fill="#000"/>
<rect x="811.29" y="131.20" width="2.30" height="6.20" fill="#000"/>
<rect x="815.42" y="131.20" width="2.30" height="6.20" fill="#000"/>
<rect x="819.55" y="131.20" width="2.30" height="6.20" fill="#000"/>
<rect x="823.68" y="131.20" width="2.30" height="6.20" fill="#000"/>
<rect x="827.81" y="131.20" width="2.30" height="6.20" fill="#000"/>
<rect x="831.94" y="131.20" width="2.30" height="6.20" fill="#000"/>
<rect x="836.07" y="131.20" width="2.30" height="6.20" fill="#000"/>
<rect x="840.20" y="131.20" width="2.30" height="6.20" fill="#000"/>
<rect x="844.33" y="131.20" width="2.30" height="6.20" fill="#000"/>
<rect x="848.46" y="131.20" width="2.30" height="6.20" fill="#000"/>
<rect x="852.60" y="131.20" width="2.30" height="6.20" fill="#000"/>
<rect x="856.73" y="131.20" width="2.30" height="6.20" fill="#000"/>
<rect x="860.86" y="131.20" width="2.30" height="6.20" fill="#000"/>
<rect x="864.99" y="131.20" width="2.30" height="6.20" fill="#000"/>
<rect x="869.12" y="131.20" width="2.30" height="6.20" fill="#000"/>
<rect x="873.25" y="131.20" width="2.30" height="6.20" fill="#000"/>
<rect x="877.38" y="131.20" width="2.30" height="6.20" fill="#000"/>
<rect x="881.51" y="131.20" width="2.30" height="6.20" fill="#000"/>
<rect x="885.64" y="131.20" width="2.30" height="6.20" fill="#000"/>
<rect x="889.77" y="131.20" width="2.30" height="6.20" fill="#000"/>
<rect x="893.90" y="131.20" width="2.30" height="6.20" fill="#000"/>
<rect x="898.03" y="131.20" width="2.30" height="6.20" fill="#000"/>
<rect x="902.16" y="131.20" width="2.30" height="6.20" fill="#000"/>
<rect x="906.29" y="131.20" width="2.30" height="6.20" fill="#000"/>
<rect x="910.42" y="131.20" width="2.30" height="6.20" fill="#000"/>
<rect x="914.55" y="131.20" width="2.30" height="6.20" fill="#000"/>
<rect x="918.68" y="131.20" width="2.30" height="6.20" fill="#000"/>
<rect x="460.30" y="130.40" width="4.20" height="1.90" fill="#000"/>
<rect x="468.70" y="132.80" width="4.20" height="1.90" fill="#000"/>
<rect x="472.90" y="132.80" width="8.30" height="1.90" fill="#000"/>
<rect x="489.50" y="132.80" width="4.20" height="1.90" fill="#000"/>
<rect x="493.70" y="131.20" width="8.30" height="1.90" fill="#000"/>
<rect x="502.00" y="130.40" width="12.40" height="1.90" fill="#000"/>
<rect x="518.50" y="131.20" width="8.30" height="1.90" fill="#000"/>
<rect x="526.80" y="130.40" width="8.30" height="1.90" fill="#000"/>
<rect x="539.20" y="132.80" width="4.20" height="1.90" fill="#000"/>
<rect x="547.50" y="132.80" width="12.40" height="1.90" fill="#000"/>
<rect x="564.00" y="131.20" width="12.40" height="1.90" fill="#000"/>
<rect x="576.40" y="132.00" width="8.30" height="1.90" fill="#000"/>
<rect x="605.30" y="130.40" width="12.40" height="1.90" fill="#000"/>
<rect x="617.70" y="132.00" width="12.40" height="1.90" fill="#000"/>
<rect x="630.10" y="130.40" width="12.40" height="1.90" fill="#000"/>
<rect x="646.60" y="132.00" width="8.30" height="1.90" fill="#000"/>
<rect x="659.00" y="132.80" width="12.40" height="1.90" fill="#000"/>
<rect x="675.60" y="132.00" width="4.20" height="1.90" fill="#000"/>
<rect x="683.90" y="132.80" width="12.40" height="1.90" fill="#000"/>
<rect x="700.40" y="132.80" width="8.30" height="1.90" fill="#000"/>
<rect x="708.70" y="132.80" width="8.30" height="1.90" fill="#000"/>
<rect x="717.00" y="131.20" width="8.30" height="1.90" fill="#000"/>
<rect x="729.40" y="132.80" width="8.30" height="1.90" fill="#000"/>
<rect x="737.70" y="132.00" width="8.30" height="1.90" fill="#000"/>
<rect x="787.30" y="131.20" width="4.20" height="1.90" fill="#000"/>
<rect x="795.60" y="131.20" width="8.30" height="1.90" fill="#000"/>
<rect x="803.90" y="132.80" width="8.30" height="1.90" fill="#000"/>
<rect x="816.30" y="132.00" width="8.30" height="1.90" fill="#000"/>
<rect x="824.60" y="132.80" width="4.20" height="1.90" fill="#000"/>
<rect x="828.80" y="132.80" width="12.40" height="1.90" fill="#000"/>
<rect x="845.30" y="130.40" width="12.40" height="1.90" fill="#000"/>
<rect x="857.70" y="132.00" width="12.40" height="1.90" fill="#000"/>
<rect x="874.20" y="131.20" width="4.20" height="1.90" fill="#000"/>
<rect x="890.80" y="131.20" width="4.20" height="1.90" fill="#000"/>
<rect x="899.10" y="132.00" width="12.40" height="1.90" fill="#000"/>
<rect x="911.50" y="130.40" width="8.30" height="1.90" fill="#000"/>
<rect x="919.80" y="132.00" width="1.20" height="1.90" fill="#000"/>
</g>
<g id="legends">
<text x="936.10" y="178.70" font-size="36.6" stroke="#000" stroke-width="0.6">Region</text>
<rect x="943.20" y="187.90" width="25.30" height="25.60" fill="#d2e000"/>
<text x="975.30" y="215.50" font-size="36.0" stroke="#000" stroke-width="0.6">BG</text>
<rect x="943.20" y="221.70" width="25.30" height="25.60" fill="#00e03c"/>
<text x="975.30" y="249.30" font-size="36.0" stroke="#000" stroke-width="0.6">CTX</text>
<rect x="943.20" y="255.50" width="25.30" height="25.60" fill="#9200e0"/>
<text x="975.30" y="283.10" font-size="36.0" stroke="#000" stroke-width="0.6">HIP</text>
<text x="936.10" y="332.00" font-size="36.6" stroke="#000" stroke-width="0.6">Subregion</text>
<rect x="943.30" y="345.20" width="25.10" height="24.60" fill="#9800aa"/>
<text x="975.30" y="372.80" font-size="36.0" stroke="#000" stroke-width="0.6">CA1</text>
<rect x="943.30" y="372.82" width="25.10" height="24.60" fill="#aa00a0"/>
<text x="975.30" y="400.42" font-size="36.0" stroke="#000" stroke-width="0.6">CA3</text>
<rect x="943.30" y="400.44" width="25.10" height="24.60" fill="#a99a00"/>
<text x="975.30" y="428.04" font-size="36.0" stroke="#000" stroke-width="0.6">Cau</text>
<rect x="943.30" y="428.06" width="25.10" height="24.60" fill="#aa0078"/>
<text x="975.30" y="455.66" font-size="36.0" stroke="#000" stroke-width="0.6">DG</text>
<rect x="943.30" y="455.68" width="25.10" height="24.60" fill="#14aa00"/>
<text x="975.30" y="483.28" font-size="36.0" stroke="#000" stroke-width="0.6">F</text>
<rect x="943.30" y="483.30" width="25.10" height="24.60" fill="#a0a000"/>
<text x="975.30" y="510.90" font-size="36.0" stroke="#000" stroke-width="0.6">GP</text>
<rect x="943.30" y="510.92" width="25.10" height="24.60" fill="#32aa00"/>
<text x="975.30" y="538.52" font-size="36.0" stroke="#000" stroke-width="0.6">I</text>
<rect x="943.30" y="538.54" width="25.10" height="24.60" fill="#00aa14"/>
<text x="975.30" y="566.14" font-size="36.0" stroke="#000" stroke-width="0.6">O</text>
<rect x="943.30" y="566.16" width="25.10" height="24.60" fill="#00aa50"/>
<text x="975.30" y="593.76" font-size="36.0" stroke="#000" stroke-width="0.6">P</text>
<rect x="943.30" y="593.78" width="25.10" height="24.60" fill="#00aa78"/>
<text x="975.30" y="621.38" font-size="36.0" stroke="#000" stroke-width="0.6">PF</text>
<rect x="943.30" y="621.40" width="25.10" height="24.60" fill="#78aa00"/>
<text x="975.30" y="649.00" font-size="36.0" stroke="#000" stroke-width="0.6">Put</text>
<rect x="943.30" y="649.02" width="25.10" height="24.60" fill="#00aa96"/>
<text x="975.30" y="676.62" font-size="36.0" stroke="#000" stroke-width="0.6">T</text>
<text x="936.10" y="717.70" font-size="36.6" stroke="#000" stroke-width="0.6">Cell type</text>
<rect x="944.80" y="745.20" width="22.00" height="21.50" fill="#e05a28"/>
<rect x="944.80" y="782.80" width="22.00" height="21.70" fill="#008c6e"/>
<text x="975.30" y="764.70" font-size="36.0" stroke="#000" stroke-width="0.6">DLX1</text>
<text x="975.30" y="801.70" font-size="36.0" stroke="#000" stroke-width="0.6">TBR1</text>
<text x="1102.80" y="178.70" font-size="36.6" stroke="#000" stroke-width="0.6">sqrt−t (AF)</text>
<defs><linearGradient id="cb" x1="0" y1="0" x2="0" y2="1"><stop offset="0" stop-color="#000"/><stop offset="0.536" stop-color="#000"/><stop offset="1" stop-color="#f4f4f4"/></linearGradient></defs>
<rect x="1110.80" y="198.40" width="28.60" height="129.80" fill="url(#cb)"/>
<rect x="1110.80" y="203.90" width="7.50" height="1.80" fill="#fff"/>
<rect x="1131.90" y="203.90" width="7.50" height="1.80" fill="#fff"/>
<text x="1145.60" y="221.80" font-size="35.0" stroke="#000" stroke-width="0.6">0.6</text>
<rect x="1110.80" y="246.00" width="7.50" height="1.80" fill="#fff"/>
<rect x="1131.90" y="246.00" width="7.50" height="1.80" fill="#fff"/>
<text x="1145.60" y="262.20" font-size="35.0" stroke="#000" stroke-width="0.6">0.4</text>
<rect x="1110.80" y="288.10" width="7.50" height="1.80" fill="#fff"/>
<rect x="1131.90" y="288.10" width="7.50" height="1.80" fill="#fff"/>
<text x="1145.60" y="302.60" font-size="35.0" stroke="#000" stroke-width="0.6">0.2</text>
<text x="1145.60" y="343.00" font-size="35.0" stroke="#000" stroke-width="0.6">0</text>
</g>
</g>
<g id="panel-b">
<text transform="translate(1296.66,49.40) scale(1.0267,1)" font-size="65" font-weight="bold" fill="#000">b</text>
<path d="M1460.0,183.0C1462.0,182.9 1467.8,182.9 1472.0,182.5C1476.2,182.1 1480.8,181.8 1485.0,180.5C1489.2,179.2 1493.4,177.3 1497.5,175.0C1501.6,172.7 1506.0,170.8 1509.7,166.7C1513.4,162.6 1516.5,157.2 1519.9,150.4C1523.3,143.6 1526.6,134.1 1530.0,126.0C1533.4,117.9 1536.8,109.4 1540.2,101.6C1543.6,93.8 1547.4,85.4 1550.4,79.3C1553.5,73.2 1555.8,68.5 1558.5,65.0C1561.2,61.5 1563.5,59.7 1566.6,58.0C1569.6,56.3 1573.1,54.9 1576.8,54.9C1580.5,54.9 1584.9,56.1 1589.0,58.0C1593.1,59.9 1596.8,62.5 1601.2,66.0C1605.6,69.5 1610.7,75.2 1615.4,79.3C1620.2,83.4 1625.3,87.5 1629.7,90.5C1634.1,93.5 1637.5,95.6 1641.9,97.6C1646.3,99.6 1651.3,101.0 1656.0,102.7C1660.7,104.4 1665.2,105.3 1670.3,107.7C1675.4,110.1 1681.6,113.9 1686.6,116.9C1691.5,120.0 1695.8,123.3 1700.0,126.0C1704.2,128.7 1708.7,131.2 1712.0,133.2C1715.3,135.2 1715.3,135.2 1720.0,138.0C1724.7,140.8 1734.0,147.0 1740.0,150.0C1746.0,153.0 1750.0,154.3 1756.0,156.0C1762.0,157.7 1770.3,158.8 1776.0,160.0C1781.7,161.2 1785.0,161.5 1790.0,163.0C1795.0,164.5 1800.3,167.0 1806.0,169.0C1811.7,171.0 1817.7,173.5 1824.0,175.0C1830.3,176.5 1834.7,177.3 1844.0,178.0C1853.3,178.7 1867.3,178.8 1880.0,179.3C1892.7,179.8 1906.0,180.5 1920.0,181.0C1934.0,181.5 1956.7,182.2 1964.0,182.4" fill="none" stroke="#b3b3b3" stroke-width="3.2" stroke-linecap="butt"/>
<path d="M1996.0,213.6C1996.2,216.3 1996.3,223.9 1997.0,230.0C1997.7,236.1 1998.5,243.3 2000.0,250.0C2001.5,256.7 2003.7,264.0 2006.0,270.0C2008.3,276.0 2011.3,280.7 2014.0,286.0C2016.7,291.3 2019.3,296.3 2022.0,302.0C2024.7,307.7 2026.8,313.2 2030.0,320.0C2033.2,326.8 2037.3,337.0 2041.0,343.0C2044.7,349.0 2047.2,349.2 2052.0,356.0C2056.8,362.8 2063.7,374.3 2070.0,384.0C2076.3,393.7 2084.7,405.7 2090.0,414.0C2095.3,422.3 2098.8,428.3 2102.0,434.0C2105.2,439.7 2107.4,443.7 2109.0,448.0C2110.6,452.3 2111.3,455.7 2111.6,460.0C2111.9,464.3 2111.9,468.3 2111.0,474.0C2110.1,479.7 2108.2,487.0 2106.0,494.0C2103.8,501.0 2099.8,510.0 2097.5,516.0C2095.2,522.0 2093.2,525.7 2092.0,530.0C2090.8,534.3 2090.0,538.0 2090.0,542.0C2090.0,546.0 2090.3,549.7 2092.0,554.0C2093.7,558.3 2096.7,563.3 2100.0,568.0C2103.3,572.7 2108.7,577.3 2112.0,582.0C2115.3,586.7 2118.4,592.3 2120.0,596.0C2121.6,599.7 2121.9,601.0 2121.6,604.0C2121.3,607.0 2120.9,610.5 2118.0,614.0C2115.1,617.5 2110.3,621.0 2104.0,625.0C2097.7,629.0 2088.0,633.5 2080.0,638.0C2072.0,642.5 2063.3,647.7 2056.0,652.0C2048.7,656.3 2042.0,660.0 2036.0,664.0C2030.0,668.0 2024.3,672.0 2020.0,676.0C2015.7,680.0 2012.7,684.3 2010.0,688.0C2007.3,691.7 2005.8,694.3 2004.0,698.0C2002.2,701.7 2000.2,706.0 1999.0,710.0C1997.8,714.0 1997.3,720.0 1997.0,722.0" fill="none" stroke="#b3b3b3" stroke-width="3.2" stroke-linecap="butt"/>
<g id="points" fill="#000">
<circle cx="1566.4" cy="298.8" r="3.6"/>
<circle cx="1623.0" cy="298.8" r="3.6"/>
<circle cx="1639.7" cy="298.8" r="3.6"/>
<circle cx="1747.5" cy="298.8" r="3.6"/>
<circle cx="1742.2" cy="327.9" r="3.6"/>
<circle cx="1621.3" cy="346.2" r="3.6"/>
<circle cx="1697.3" cy="363.6" r="3.6"/>
<circle cx="1674.0" cy="371.6" r="3.6"/>
<circle cx="1575.6" cy="374.9" r="3.6"/>
<circle cx="1580.6" cy="375.5" r="3.6"/>
<circle cx="1611.0" cy="374.6" r="3.6"/>
<circle cx="1544.5" cy="380.3" r="3.6"/>
<circle cx="1594.4" cy="380.3" r="3.6"/>
<circle cx="1601.1" cy="384.1" r="3.6"/>
<circle cx="1687.8" cy="380.1" r="3.6"/>
<circle cx="1693.0" cy="381.3" r="3.6"/>
<circle cx="1592.9" cy="388.6" r="3.6"/>
<circle cx="1687.0" cy="392.3" r="3.6"/>
<circle cx="1648.2" cy="396.1" r="3.6"/>
<circle cx="1583.7" cy="405.5" r="3.6"/>
<circle cx="1626.5" cy="414.9" r="3.6"/>
<circle cx="1662.6" cy="415.1" r="3.6"/>
<circle cx="1671.1" cy="418.4" r="3.6"/>
<circle cx="1612.4" cy="422.4" r="3.6"/>
<circle cx="1608.9" cy="426.6" r="3.6"/>
<circle cx="1621.3" cy="425.5" r="3.6"/>
<circle cx="1562.9" cy="424.3" r="3.6"/>
<circle cx="1662.6" cy="424.3" r="3.6"/>
<circle cx="1686.0" cy="425.0" r="3.6"/>
<circle cx="1648.2" cy="429.3" r="3.6"/>
<circle cx="1648.5" cy="439.6" r="3.6"/>
<circle cx="1668.3" cy="443.9" r="3.6"/>
<circle cx="1656.3" cy="446.3" r="3.6"/>
<circle cx="1600.7" cy="446.7" r="3.6"/>
<circle cx="1601.1" cy="449.5" r="3.6"/>
<circle cx="1615.7" cy="449.1" r="3.6"/>
<circle cx="1550.8" cy="450.7" r="3.6"/>
<circle cx="1689.5" cy="453.8" r="3.6"/>
<circle cx="1618.5" cy="456.3" r="3.6"/>
<circle cx="1663.8" cy="457.3" r="3.6"/>
<circle cx="1679.3" cy="457.7" r="3.6"/>
<circle cx="1589.1" cy="458.0" r="3.6"/>
<circle cx="1582.7" cy="458.7" r="3.6"/>
<circle cx="1688.1" cy="465.1" r="3.6"/>
<circle cx="1586.9" cy="465.4" r="3.6"/>
<circle cx="1555.1" cy="467.9" r="3.6"/>
<circle cx="1564.3" cy="469.3" r="3.6"/>
<circle cx="1570.0" cy="472.9" r="3.6"/>
<circle cx="1578.0" cy="471.5" r="3.6"/>
<circle cx="1736.9" cy="468.2" r="3.6"/>
<circle cx="1779.7" cy="470.3" r="3.6"/>
<circle cx="1667.3" cy="484.2" r="3.6"/>
<circle cx="1686.0" cy="493.4" r="3.6"/>
<circle cx="1730.6" cy="497.6" r="3.6"/>
<circle cx="1708.6" cy="500.2" r="3.6"/>
<circle cx="1555.1" cy="501.6" r="3.6"/>
<circle cx="1552.3" cy="508.7" r="3.6"/>
<circle cx="1610.6" cy="506.4" r="3.6"/>
<circle cx="1636.5" cy="509.2" r="3.6"/>
<circle cx="1649.2" cy="508.7" r="3.6"/>
<circle cx="1678.2" cy="506.8" r="3.6"/>
<circle cx="1594.7" cy="513.5" r="3.6"/>
<circle cx="1783.6" cy="511.8" r="3.6"/>
<circle cx="1719.7" cy="513.2" r="3.6"/>
<circle cx="1568.3" cy="518.6" r="3.6"/>
<circle cx="1610.0" cy="521.7" r="3.6"/>
<circle cx="1591.9" cy="525.6" r="3.6"/>
<circle cx="1653.4" cy="528.7" r="3.6"/>
<circle cx="1779.8" cy="532.6" r="3.6"/>
<circle cx="1555.1" cy="539.4" r="3.6"/>
<circle cx="1726.0" cy="539.4" r="3.6"/>
<circle cx="1651.3" cy="542.3" r="3.6"/>
<circle cx="1548.4" cy="554.3" r="3.6"/>
<circle cx="1606.7" cy="559.1" r="3.6"/>
<circle cx="1563.9" cy="562.1" r="3.6"/>
<circle cx="1612.4" cy="568.0" r="3.6"/>
<circle cx="1564.3" cy="571.1" r="3.6"/>
<circle cx="1587.6" cy="575.1" r="3.6"/>
<circle cx="1619.9" cy="576.8" r="3.6"/>
<circle cx="1674.9" cy="578.3" r="3.6"/>
<circle cx="1727.7" cy="577.9" r="3.6"/>
<circle cx="1564.3" cy="580.0" r="3.6"/>
<circle cx="1603.2" cy="582.4" r="3.6"/>
<circle cx="1616.4" cy="584.6" r="3.6"/>
<circle cx="1671.8" cy="587.4" r="3.6"/>
<circle cx="1561.5" cy="591.1" r="3.6"/>
<circle cx="1717.8" cy="594.9" r="3.6"/>
<circle cx="1563.3" cy="604.5" r="3.6"/>
<circle cx="1548.0" cy="607.6" r="3.6"/>
<circle cx="1728.1" cy="608.3" r="3.6"/>
<circle cx="1780.8" cy="608.8" r="3.6"/>
<circle cx="1597.5" cy="609.5" r="3.6"/>
<circle cx="1603.9" cy="610.7" r="3.6"/>
<circle cx="1576.6" cy="614.0" r="3.6"/>
<circle cx="1563.6" cy="611.9" r="3.6"/>
<circle cx="1560.8" cy="615.4" r="3.6"/>
<circle cx="1557.9" cy="619.0" r="3.6"/>
<circle cx="1618.8" cy="616.4" r="3.6"/>
<circle cx="1642.8" cy="618.7" r="3.6"/>
<circle cx="1695.9" cy="618.7" r="3.6"/>
<circle cx="1734.8" cy="619.7" r="3.6"/>
<circle cx="1548.7" cy="619.0" r="3.6"/>
<circle cx="1572.8" cy="622.9" r="3.6"/>
<circle cx="1582.7" cy="623.9" r="3.6"/>
<circle cx="1546.6" cy="630.3" r="3.6"/>
<circle cx="1546.6" cy="634.7" r="3.6"/>
<circle cx="1581.3" cy="637.1" r="3.6"/>
<circle cx="1786.4" cy="634.7" r="3.6"/>
<circle cx="1795.0" cy="593.0" r="3.6"/>
<circle cx="1824.0" cy="336.4" r="3.6"/>
<circle cx="1873.0" cy="333.0" r="3.6"/>
<circle cx="1561.6" cy="613.6" r="3.6"/>
<circle cx="1559.2" cy="617.2" r="3.6"/>
</g>
<g id="contours" fill="none" stroke="#3366f0" stroke-width="3.3" stroke-linejoin="round">
<path d="M1531.7,412.0C1533.6,403.1 1534.7,396.6 1536.7,389.0C1538.7,381.4 1541.2,373.7 1543.8,366.4C1546.4,359.1 1549.5,351.6 1552.3,345.2C1555.1,338.8 1558.0,332.8 1560.8,328.2C1563.6,323.6 1565.9,320.4 1569.2,317.6C1572.5,314.8 1576.3,312.7 1580.6,311.2C1584.8,309.7 1589.8,308.9 1594.7,308.4C1599.7,307.9 1605.6,307.6 1610.3,308.1C1615.0,308.6 1619.0,309.6 1623.0,311.2C1627.0,312.8 1630.5,315.4 1634.3,317.6C1638.1,319.9 1641.9,322.7 1645.7,324.7C1649.5,326.7 1652.8,328.2 1657.0,329.6C1661.2,331.0 1665.9,332.2 1671.1,333.2C1676.3,334.2 1683.4,334.7 1688.1,335.6C1692.8,336.5 1695.9,337.3 1699.4,338.8C1702.9,340.3 1706.5,342.0 1709.3,344.5C1712.1,347.0 1714.5,350.1 1716.4,353.7C1718.3,357.3 1719.4,361.7 1720.6,366.4C1721.8,371.1 1722.7,376.8 1723.5,382.0C1724.3,387.2 1725.1,392.6 1725.6,397.5C1726.1,402.4 1725.7,406.6 1726.3,411.3C1726.9,416.0 1727.9,420.8 1729.1,425.5C1730.3,430.2 1731.5,434.9 1733.4,439.6C1735.3,444.3 1737.9,449.3 1740.5,453.8C1743.1,458.3 1746.2,462.5 1749.0,466.5C1751.8,470.5 1754.8,474.0 1757.4,477.8C1760.0,481.6 1762.7,485.3 1764.5,489.1C1766.3,492.9 1767.5,496.7 1768.5,500.5C1769.5,504.3 1769.9,507.9 1770.2,511.8C1770.5,515.8 1771.0,519.8 1770.5,524.2C1770.0,528.6 1768.2,533.6 1767.3,538.3C1766.4,543.0 1765.4,548.2 1765.2,552.5C1765.0,556.8 1765.2,560.0 1765.9,563.8C1766.6,567.6 1768.3,571.3 1769.5,575.1C1770.7,578.9 1772.3,582.6 1773.0,586.4C1773.7,590.2 1774.0,593.9 1773.7,597.7C1773.4,601.5 1772.7,605.6 1770.9,609.1C1769.1,612.6 1766.3,616.2 1763.1,619.0C1759.9,621.8 1756.0,624.0 1751.8,626.0C1747.5,628.0 1742.3,629.7 1737.6,630.8C1732.9,631.9 1728.2,632.5 1723.5,632.5C1718.8,632.5 1714.0,632.0 1709.3,631.0C1704.6,630.0 1699.9,627.8 1695.2,626.5C1690.5,625.2 1685.2,623.6 1681.0,623.2C1676.8,622.8 1673.2,623.2 1669.7,623.9C1666.2,624.6 1662.9,626.0 1659.8,627.4C1656.7,628.8 1654.8,630.0 1651.3,632.5C1647.8,635.0 1643.3,638.7 1638.6,642.5C1633.9,646.3 1628.4,650.7 1623.0,655.2C1617.6,659.7 1611.7,665.0 1606.0,669.3C1600.3,673.5 1594.8,677.5 1589.1,680.7C1583.4,683.9 1577.5,686.7 1572.1,688.4C1566.7,690.1 1561.5,690.8 1556.5,690.8C1551.5,690.8 1546.9,690.1 1542.4,688.4C1537.9,686.7 1533.6,684.1 1529.6,680.7C1525.6,677.3 1521.6,672.6 1518.3,667.9C1515.0,663.2 1512.1,658.3 1509.8,652.4C1507.5,646.5 1505.4,638.9 1504.2,632.5C1503.0,626.1 1502.8,619.5 1502.5,614.2C1502.2,608.9 1502.3,605.7 1502.7,600.6C1503.1,595.5 1503.6,589.3 1504.9,583.6C1506.2,577.9 1508.9,573.0 1510.6,566.6C1512.3,560.2 1513.8,552.5 1515.0,545.4C1516.2,538.3 1516.8,530.1 1517.6,524.2C1518.4,518.3 1519.3,514.0 1519.7,510.0C1520.1,506.0 1519.8,504.2 1520.0,500.0C1520.2,495.8 1520.6,490.9 1521.1,484.9C1521.6,478.8 1522.1,470.8 1522.8,463.7C1523.5,456.6 1523.9,451.1 1525.4,442.5C1526.9,433.9 1529.8,420.9 1531.7,412.0Z"/>
<path d="M1553.0,412.0C1555.5,403.6 1557.1,397.8 1559.3,391.9C1561.5,385.9 1563.8,381.0 1566.4,376.3C1569.0,371.6 1571.6,367.1 1574.9,363.6C1578.2,360.1 1582.0,357.0 1586.2,355.1C1590.5,353.2 1595.7,352.1 1600.4,352.0C1605.1,351.9 1609.8,353.1 1614.5,354.4C1619.2,355.7 1624.0,358.3 1628.7,360.0C1633.4,361.7 1638.1,363.7 1642.8,364.7C1647.5,365.7 1651.8,365.8 1657.0,366.0C1662.2,366.2 1669.3,365.4 1674.0,366.1C1678.7,366.8 1682.0,368.1 1685.3,370.0C1688.6,371.9 1691.3,374.5 1693.8,377.7C1696.3,380.9 1698.4,385.0 1700.1,389.0C1701.8,393.0 1702.6,397.6 1703.7,401.8C1704.8,406.0 1705.7,409.1 1706.5,414.2C1707.3,419.3 1707.8,426.6 1708.6,432.5C1709.4,438.4 1710.5,443.8 1711.5,449.5C1712.5,455.2 1713.6,461.1 1714.3,466.5C1715.0,471.9 1715.6,477.6 1715.7,482.1C1715.8,486.6 1715.7,489.6 1715.0,493.4C1714.3,497.2 1713.2,501.2 1711.5,504.7C1709.8,508.2 1707.3,511.7 1705.1,514.6C1702.8,517.5 1700.8,519.5 1698.0,522.0C1695.2,524.5 1692.1,526.6 1688.1,529.8C1684.1,533.0 1678.0,537.3 1674.0,541.1C1670.0,544.9 1666.8,548.2 1664.0,552.5C1661.2,556.8 1659.1,561.9 1657.0,566.6C1654.9,571.3 1653.2,576.1 1651.3,580.8C1649.4,585.5 1647.8,590.4 1645.7,594.9C1643.6,599.4 1641.2,603.4 1638.6,607.6C1636.0,611.9 1632.9,616.7 1630.1,620.4C1627.3,624.1 1625.4,625.6 1621.6,629.7C1617.8,633.9 1612.5,640.3 1607.5,645.3C1602.5,650.2 1597.1,655.4 1591.9,659.4C1586.7,663.4 1581.5,667.0 1576.3,669.3C1571.1,671.5 1565.8,672.6 1560.8,672.9C1555.8,673.1 1551.1,672.4 1546.6,670.8C1542.1,669.1 1537.7,666.5 1533.9,663.0C1530.1,659.5 1526.6,654.6 1524.0,649.5C1521.4,644.4 1519.6,638.4 1518.3,632.5C1517.0,626.6 1516.4,620.0 1516.2,614.2C1516.0,608.4 1516.3,603.3 1516.9,597.7C1517.5,592.1 1518.0,586.4 1519.7,580.8C1521.4,575.1 1524.9,569.9 1527.0,563.8C1529.1,557.7 1531.0,550.6 1532.5,544.0C1534.0,537.4 1535.1,529.9 1536.0,524.2C1536.9,518.5 1537.5,516.5 1538.1,510.0C1538.7,503.4 1539.2,492.6 1539.8,484.9C1540.4,477.2 1540.8,470.8 1541.6,463.7C1542.4,456.6 1542.6,451.1 1544.5,442.5C1546.4,433.9 1550.5,420.4 1553.0,412.0Z"/>
<path d="M1573.5,412.0C1576.1,405.7 1577.0,402.8 1579.1,399.0C1581.2,395.2 1583.6,391.6 1586.2,389.0C1588.8,386.4 1591.4,384.6 1594.7,383.4C1598.0,382.2 1601.8,381.6 1606.0,382.0C1610.2,382.4 1615.5,384.2 1620.2,385.5C1624.9,386.8 1629.6,388.9 1634.3,389.8C1639.0,390.8 1643.5,390.9 1648.5,391.2C1653.5,391.5 1659.8,391.0 1664.0,391.6C1668.2,392.2 1671.2,393.0 1674.0,394.7C1676.8,396.4 1679.0,399.3 1681.0,401.8C1683.0,404.3 1684.3,406.2 1686.0,409.9C1687.7,413.6 1689.8,419.2 1690.9,424.1C1692.0,429.1 1692.4,434.2 1692.6,439.6C1692.8,445.0 1692.7,451.4 1692.3,456.6C1691.9,461.8 1691.2,466.3 1690.2,470.8C1689.2,475.3 1688.0,479.5 1686.0,483.5C1684.0,487.5 1681.4,491.2 1678.2,494.8C1675.0,498.4 1671.2,502.1 1666.9,505.4C1662.7,508.7 1656.7,511.8 1652.7,514.6C1648.7,517.4 1645.6,519.7 1642.8,522.0C1640.0,524.3 1637.8,525.2 1635.7,528.4C1633.6,531.6 1631.4,536.6 1630.1,541.1C1628.8,545.6 1628.5,550.6 1628.0,555.3C1627.5,560.0 1627.7,564.7 1627.3,569.4C1626.9,574.1 1626.6,578.9 1625.8,583.6C1625.0,588.3 1623.8,593.2 1622.3,597.7C1620.8,602.2 1618.8,606.5 1616.6,610.5C1614.4,614.5 1611.4,617.9 1608.9,621.8C1606.4,625.7 1605.3,629.6 1601.8,634.0C1598.2,638.4 1592.3,644.3 1587.6,648.1C1582.9,651.9 1578.0,654.8 1573.5,656.6C1569.0,658.4 1565.0,659.1 1560.8,658.7C1556.5,658.4 1551.8,656.7 1548.0,654.5C1544.2,652.3 1540.9,649.2 1538.1,645.3C1535.3,641.4 1532.8,636.3 1531.0,631.1C1529.2,625.9 1528.3,619.1 1527.5,614.2C1526.7,609.4 1525.9,606.4 1526.0,602.0C1526.1,597.6 1526.4,593.0 1528.2,587.8C1530.0,582.6 1534.0,576.7 1537.0,570.8C1540.0,564.9 1543.4,558.4 1546.0,552.5C1548.6,546.6 1550.8,540.7 1552.6,535.5C1554.3,530.3 1555.4,525.5 1556.5,521.3C1557.6,517.0 1558.7,514.9 1559.0,510.0C1559.3,505.1 1558.4,498.5 1558.3,492.0C1558.2,485.5 1558.0,477.2 1558.3,470.8C1558.6,464.4 1559.1,459.5 1560.0,453.8C1560.9,448.1 1561.3,443.8 1563.6,436.8C1565.8,429.8 1570.9,418.3 1573.5,412.0Z"/>
<path d="M1610.3,417.7C1606.3,417.9 1603.5,418.5 1600.4,420.5C1597.3,422.5 1594.3,426.0 1591.9,429.7C1589.5,433.4 1587.6,438.0 1586.2,442.5C1584.8,447.0 1583.8,452.1 1583.4,456.6C1583.1,461.1 1583.1,465.7 1584.1,469.3C1585.0,472.9 1586.9,476.4 1589.1,478.5C1591.3,480.6 1594.4,481.7 1597.5,482.1C1600.6,482.5 1603.7,482.1 1607.5,480.9C1611.3,479.7 1615.7,476.9 1620.2,475.0C1624.7,473.1 1629.6,470.9 1634.3,469.3C1639.0,467.7 1644.5,466.8 1648.5,465.4C1652.5,464.0 1655.7,462.7 1658.4,460.8C1661.1,458.9 1663.4,456.6 1664.8,453.8C1666.2,451.0 1666.8,447.2 1666.9,443.9C1667.0,440.6 1666.5,436.9 1665.5,434.0C1664.5,431.1 1663.3,428.1 1661.2,426.2C1659.1,424.3 1656.5,423.4 1652.7,422.6C1648.9,421.8 1643.3,421.8 1638.6,421.2C1633.9,420.6 1629.1,419.7 1624.4,419.1C1619.7,418.5 1614.3,417.5 1610.3,417.7Z"/>
<path d="M1580.6,545.1C1576.6,545.1 1571.5,546.3 1567.8,548.2C1564.1,550.1 1561.7,552.9 1558.5,556.7C1555.3,560.5 1551.7,565.8 1548.5,570.8C1545.3,575.8 1541.6,581.0 1539.5,586.4C1537.4,591.8 1536.3,598.1 1536.0,603.4C1535.7,608.7 1536.3,613.9 1537.4,618.0C1538.5,622.1 1540.4,624.8 1542.4,628.3C1544.4,631.8 1546.6,636.1 1549.4,638.9C1552.2,641.7 1556.0,644.0 1559.3,645.0C1562.6,646.0 1565.7,645.6 1569.2,644.6C1572.8,643.6 1576.8,641.6 1580.6,638.9C1584.4,636.2 1588.6,632.2 1591.9,628.3C1595.2,624.4 1598.1,620.2 1600.4,615.6C1602.8,611.0 1604.8,605.5 1606.0,600.6C1607.2,595.7 1607.5,591.4 1607.4,586.4C1607.3,581.4 1606.5,575.5 1605.3,570.8C1604.1,566.1 1602.6,561.9 1600.4,558.1C1598.2,554.3 1595.2,550.4 1591.9,548.2C1588.6,546.0 1584.6,545.1 1580.6,545.1Z"/>
<path d="M1573.5,573.0C1570.0,573.0 1565.7,575.2 1562.2,577.9C1558.7,580.6 1554.8,585.0 1552.3,589.2C1549.8,593.5 1548.0,599.3 1547.3,603.4C1546.6,607.5 1547.2,610.8 1548.0,614.0C1548.8,617.2 1550.6,620.0 1552.3,622.6C1554.0,625.2 1555.8,628.1 1557.9,629.7C1560.0,631.3 1562.4,632.3 1565.0,632.3C1567.6,632.3 1570.7,631.6 1573.5,629.7C1576.3,627.9 1579.7,624.3 1582.0,621.2C1584.3,618.1 1586.2,615.0 1587.6,611.3C1589.0,607.6 1590.2,603.0 1590.5,599.1C1590.8,595.2 1590.3,591.3 1589.1,587.8C1587.9,584.3 1586.0,580.4 1583.4,577.9C1580.8,575.4 1577.0,573.0 1573.5,573.0Z"/>
</g>
<line x1="1435.50" y1="746.80" x2="1932.00" y2="246.50" stroke="#000" stroke-width="3.5" stroke-linecap="butt"/>
<circle cx="1631.5" cy="498.4" r="7.8" fill="#f00"/>
<g id="axes" stroke="#000" stroke-width="3.4" fill="none" stroke-linecap="butt">
<path d="M1434.4,188V749.5"/>
<path d="M1432.7,747.8H1990"/>
<path d="M1426,298.0H1434.4"/>
<path d="M1426,467.6H1434.4"/>
<path d="M1426,637.0H1434.4"/>
<path d="M1544.0,747.8V761"/>
<path d="M1711.6,747.8V761"/>
<path d="M1880.4,747.8V761"/>
</g>
<text transform="translate(1358.76,313.60) scale(0.9804,1)" font-size="44.0" fill="#000" stroke="#000" stroke-width="0.35">1.0</text>
<text transform="translate(1358.26,483.20) scale(0.9889,1)" font-size="44.0" fill="#000" stroke="#000" stroke-width="0.35">0.5</text>
<text transform="translate(1358.26,652.60) scale(0.9889,1)" font-size="44.0" fill="#000" stroke="#000" stroke-width="0.35">0.0</text>
<text transform="translate(1512.26,802.00) scale(0.9889,1)" font-size="44.0" fill="#000" stroke="#000" stroke-width="0.35">0.0</text>
<text transform="translate(1680.26,802.00) scale(0.9889,1)" font-size="44.0" fill="#000" stroke="#000" stroke-width="0.35">0.5</text>
<text transform="translate(1850.26,802.00) scale(0.9804,1)" font-size="44.0" fill="#000" stroke="#000" stroke-width="0.35">1.0</text>
<text transform="translate(1484.10,846.60) scale(0.9944,1)" font-size="44.0" fill="#000" stroke="#000" stroke-width="0.35">Normalized Δ(CTX-BG)</text>
<text transform="translate(1474.09,848.10) scale(0.824,1.288)" font-size="44.0">|</text>
<text transform="translate(1943.89,848.10) scale(0.824,1.288)" font-size="44.0">|</text>
<text transform="translate(1342.00,701.49) rotate(-90) scale(0.9922,1.0000)" font-size="44.0" fill="#000" stroke="#000" stroke-width="0.35">Normalized Δ(CTX-HIP)</text>
<text transform="translate(1343.27,712.31) rotate(-90) scale(0.824,1.313)" font-size="44.0">|</text>
<text transform="translate(1343.27,235.31) rotate(-90) scale(0.824,1.313)" font-size="44.0">|</text>
</g>
</svg>
</body>
</html>
